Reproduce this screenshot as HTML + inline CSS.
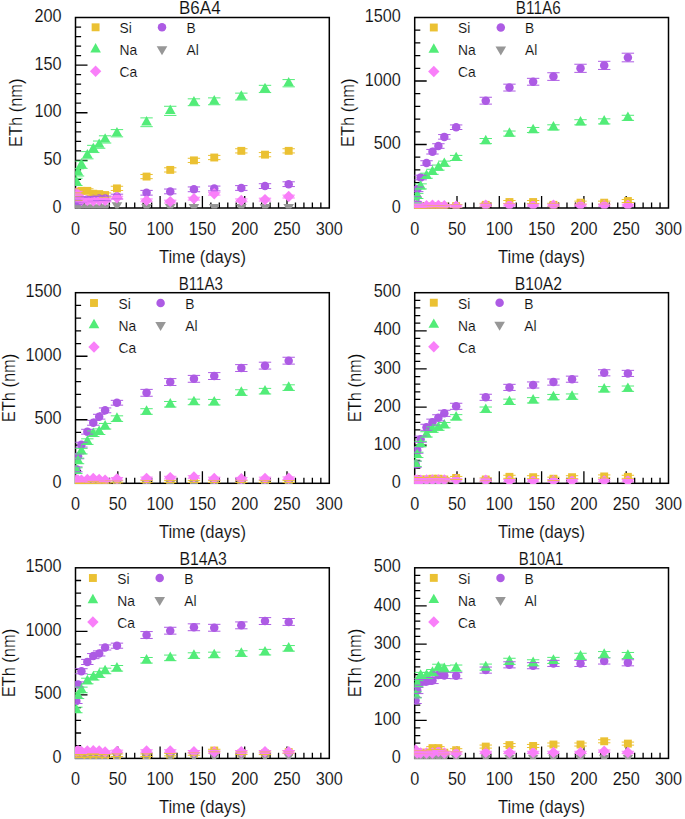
<!DOCTYPE html>
<html><head><meta charset="utf-8"><style>
html,body{margin:0;padding:0;background:#fff;width:685px;height:819px;overflow:hidden}
svg{display:block}
.t{font-family:"Liberation Sans", sans-serif;font-size:17.5px;fill:#0d0d0d;stroke:#fff;stroke-width:0.12px}
.l{font-family:"Liberation Sans", sans-serif;font-size:13.8px;fill:#0d0d0d;stroke:#fff;stroke-width:0.12px}
</style></head><body>
<svg width="685" height="819" viewBox="0 0 685 819">
<defs>
<clipPath id="c0"><rect x="75.1" y="17.5" width="254.20000000000002" height="191.1"/></clipPath>
<clipPath id="c1"><rect x="414.3" y="17.5" width="254.20000000000002" height="191.1"/></clipPath>
<clipPath id="c2"><rect x="75.1" y="292.7" width="254.20000000000002" height="191.20000000000002"/></clipPath>
<clipPath id="c3"><rect x="414.3" y="292.7" width="254.20000000000002" height="191.20000000000002"/></clipPath>
<clipPath id="c4"><rect x="75.1" y="567.8" width="254.20000000000002" height="191.20000000000002"/></clipPath>
<clipPath id="c5"><rect x="414.3" y="567.8" width="254.20000000000002" height="191.20000000000002"/></clipPath>
</defs>
<rect x="75.5" y="17.5" width="253.8" height="190.5" fill="none" stroke="#000" stroke-width="1.5"/>
<path d="M75.5 198.47h5.6M75.5 188.95h5.6M75.5 179.43h5.6M75.5 169.9h5.6M75.5 160.38h12M75.5 150.85h5.6M75.5 141.32h5.6M75.5 131.8h5.6M75.5 122.28h5.6M75.5 112.75h12M75.5 103.22h5.6M75.5 93.7h5.6M75.5 84.17h5.6M75.5 74.65h5.6M75.5 65.12h12M75.5 55.6h5.6M75.5 46.07h5.6M75.5 36.55h5.6M75.5 27.03h5.6M83.96 208v-5.6M92.42 208v-5.6M100.88 208v-5.6M109.34 208v-5.6M117.8 208v-12M126.26 208v-5.6M134.72 208v-5.6M143.18 208v-5.6M151.64 208v-5.6M160.1 208v-12M168.56 208v-5.6M177.02 208v-5.6M185.48 208v-5.6M193.94 208v-5.6M202.4 208v-12M210.86 208v-5.6M219.32 208v-5.6M227.78 208v-5.6M236.24 208v-5.6M244.7 208v-12M253.16 208v-5.6M261.62 208v-5.6M270.08 208v-5.6M278.54 208v-5.6M287 208v-12M295.46 208v-5.6M303.92 208v-5.6M312.38 208v-5.6M320.84 208v-5.6" stroke="#000" stroke-width="1.3" fill="none"/>
<g clip-path="url(#c0)">
<rect x="72.4" y="194.53" width="7.9" height="7.9" fill="#EBC133"/>
<rect x="74.09" y="192.62" width="7.9" height="7.9" fill="#EBC133"/>
<rect x="77.47" y="186.91" width="7.9" height="7.9" fill="#EBC133"/>
<rect x="83.39" y="186.91" width="7.9" height="7.9" fill="#EBC133"/>
<rect x="89.32" y="189.76" width="7.9" height="7.9" fill="#EBC133"/>
<rect x="95.24" y="190.14" width="7.9" height="7.9" fill="#EBC133"/>
<rect x="101.16" y="191.1" width="7.9" height="7.9" fill="#EBC133"/>
<rect x="113" y="184.43" width="7.9" height="7.9" fill="#EBC133"/>
<rect x="142.61" y="172.62" width="7.9" height="7.9" fill="#EBC133"/>
<rect x="166.3" y="165.95" width="7.9" height="7.9" fill="#EBC133"/>
<rect x="189.99" y="156.43" width="7.9" height="7.9" fill="#EBC133"/>
<rect x="210.29" y="153.57" width="7.9" height="7.9" fill="#EBC133"/>
<rect x="237.37" y="146.9" width="7.9" height="7.9" fill="#EBC133"/>
<rect x="261.05" y="150.71" width="7.9" height="7.9" fill="#EBC133"/>
<rect x="284.74" y="146.9" width="7.9" height="7.9" fill="#EBC133"/>
<circle cx="76.35" cy="202.28" r="4.25" fill="#AD5BE4"/>
<circle cx="78.04" cy="200.38" r="4.25" fill="#AD5BE4"/>
<circle cx="81.42" cy="199.43" r="4.25" fill="#AD5BE4"/>
<circle cx="87.34" cy="199.43" r="4.25" fill="#AD5BE4"/>
<circle cx="93.27" cy="198.95" r="4.25" fill="#AD5BE4"/>
<circle cx="99.19" cy="198.47" r="4.25" fill="#AD5BE4"/>
<circle cx="105.11" cy="198.47" r="4.25" fill="#AD5BE4"/>
<circle cx="116.95" cy="196.57" r="4.25" fill="#AD5BE4"/>
<circle cx="146.56" cy="192.76" r="4.25" fill="#AD5BE4"/>
<circle cx="170.25" cy="191.43" r="4.25" fill="#AD5BE4"/>
<circle cx="193.94" cy="189.33" r="4.25" fill="#AD5BE4"/>
<circle cx="214.24" cy="188.47" r="4.25" fill="#AD5BE4"/>
<circle cx="241.32" cy="188" r="4.25" fill="#AD5BE4"/>
<circle cx="265" cy="186.09" r="4.25" fill="#AD5BE4"/>
<circle cx="288.69" cy="184.19" r="4.25" fill="#AD5BE4"/>
<path d="M76.35 175.63L81.65 185.03L71.05 185.03Z" fill="#52EC78"/>
<path d="M78.04 166.11L83.34 175.51L72.74 175.51Z" fill="#52EC78"/>
<path d="M81.42 158.49L86.72 167.89L76.12 167.89Z" fill="#52EC78"/>
<path d="M87.34 148.96L92.64 158.36L82.04 158.36Z" fill="#52EC78"/>
<path d="M93.27 142.68L98.57 152.08L87.97 152.08Z" fill="#52EC78"/>
<path d="M99.19 138.39L104.49 147.79L93.89 147.79Z" fill="#52EC78"/>
<path d="M105.11 133.15L110.41 142.55L99.81 142.55Z" fill="#52EC78"/>
<path d="M116.95 126.96L122.25 136.36L111.65 136.36Z" fill="#52EC78"/>
<path d="M146.56 116.01L151.86 125.41L141.26 125.41Z" fill="#52EC78"/>
<path d="M170.25 104.58L175.55 113.98L164.95 113.98Z" fill="#52EC78"/>
<path d="M193.94 96.01L199.24 105.41L188.64 105.41Z" fill="#52EC78"/>
<path d="M214.24 95.05L219.54 104.45L208.94 104.45Z" fill="#52EC78"/>
<path d="M241.32 90.29L246.62 99.69L236.02 99.69Z" fill="#52EC78"/>
<path d="M265 82.67L270.3 92.07L259.7 92.07Z" fill="#52EC78"/>
<path d="M288.69 76.96L293.99 86.36L283.39 86.36Z" fill="#52EC78"/>
<path d="M76.35 213.52L81.65 204.52L71.05 204.52Z" fill="#979797"/>
<path d="M78.04 213.52L83.34 204.52L72.74 204.52Z" fill="#979797"/>
<path d="M81.42 213.52L86.72 204.52L76.12 204.52Z" fill="#979797"/>
<path d="M87.34 213.52L92.64 204.52L82.04 204.52Z" fill="#979797"/>
<path d="M93.27 213.52L98.57 204.52L87.97 204.52Z" fill="#979797"/>
<path d="M99.19 213.52L104.49 204.52L93.89 204.52Z" fill="#979797"/>
<path d="M105.11 213.52L110.41 204.52L99.81 204.52Z" fill="#979797"/>
<path d="M116.95 211.14L122.25 202.14L111.65 202.14Z" fill="#979797"/>
<path d="M146.56 213.05L151.86 204.05L141.26 204.05Z" fill="#979797"/>
<path d="M170.25 213.05L175.55 204.05L164.95 204.05Z" fill="#979797"/>
<path d="M193.94 213.05L199.24 204.05L188.64 204.05Z" fill="#979797"/>
<path d="M214.24 213.05L219.54 204.05L208.94 204.05Z" fill="#979797"/>
<path d="M241.32 213.05L246.62 204.05L236.02 204.05Z" fill="#979797"/>
<path d="M265 213.05L270.3 204.05L259.7 204.05Z" fill="#979797"/>
<path d="M288.69 213.05L293.99 204.05L283.39 204.05Z" fill="#979797"/>
<path d="M76.35 187.06L82.05 192.76L76.35 198.46L70.65 192.76Z" fill="#F97FF9"/>
<path d="M78.04 190.87L83.74 196.57L78.04 202.27L72.34 196.57Z" fill="#F97FF9"/>
<path d="M81.42 194.68L87.12 200.38L81.42 206.08L75.72 200.38Z" fill="#F97FF9"/>
<path d="M87.34 194.68L93.04 200.38L87.34 206.08L81.64 200.38Z" fill="#F97FF9"/>
<path d="M93.27 195.16L98.97 200.86L93.27 206.56L87.57 200.86Z" fill="#F97FF9"/>
<path d="M99.19 194.68L104.89 200.38L99.19 206.08L93.49 200.38Z" fill="#F97FF9"/>
<path d="M105.11 194.68L110.81 200.38L105.11 206.08L99.41 200.38Z" fill="#F97FF9"/>
<path d="M116.95 192.01L122.65 197.71L116.95 203.41L111.25 197.71Z" fill="#F97FF9"/>
<path d="M146.56 194.68L152.26 200.38L146.56 206.08L140.86 200.38Z" fill="#F97FF9"/>
<path d="M170.25 195.92L175.95 201.62L170.25 207.32L164.55 201.62Z" fill="#F97FF9"/>
<path d="M193.94 192.97L199.64 198.67L193.94 204.37L188.24 198.67Z" fill="#F97FF9"/>
<path d="M214.24 188.01L219.94 193.71L214.24 199.41L208.54 193.71Z" fill="#F97FF9"/>
<path d="M241.32 194.68L247.02 200.38L241.32 206.08L235.62 200.38Z" fill="#F97FF9"/>
<path d="M265 193.92L270.7 199.62L265 205.32L259.3 199.62Z" fill="#F97FF9"/>
<path d="M288.69 190.87L294.39 196.57L288.69 202.27L282.99 196.57Z" fill="#F97FF9"/>
<path d="M70.15 196.38H82.55M70.15 200.57H82.55" stroke="#EBC133" stroke-width="1" fill="none"/>
<path d="M71.84 194.47H84.24M71.84 198.67H84.24" stroke="#EBC133" stroke-width="1" fill="none"/>
<path d="M75.22 188.76H87.62M75.22 192.95H87.62" stroke="#EBC133" stroke-width="1" fill="none"/>
<path d="M81.14 188.76H93.54M81.14 192.95H93.54" stroke="#EBC133" stroke-width="1" fill="none"/>
<path d="M87.07 191.62H99.47M87.07 195.81H99.47" stroke="#EBC133" stroke-width="1" fill="none"/>
<path d="M92.99 192H105.39M92.99 196.19H105.39" stroke="#EBC133" stroke-width="1" fill="none"/>
<path d="M98.91 192.95H111.31M98.91 197.14H111.31" stroke="#EBC133" stroke-width="1" fill="none"/>
<path d="M110.75 186.28H123.15M110.75 190.47H123.15" stroke="#EBC133" stroke-width="1" fill="none"/>
<path d="M140.36 174.47H152.76M140.36 178.66H152.76" stroke="#EBC133" stroke-width="1" fill="none"/>
<path d="M164.05 167.8H176.45M164.05 172H176.45" stroke="#EBC133" stroke-width="1" fill="none"/>
<path d="M187.74 158.28H200.14M187.74 162.47H200.14" stroke="#EBC133" stroke-width="1" fill="none"/>
<path d="M208.04 155.42H220.44M208.04 159.61H220.44" stroke="#EBC133" stroke-width="1" fill="none"/>
<path d="M235.12 148.75H247.52M235.12 152.95H247.52" stroke="#EBC133" stroke-width="1" fill="none"/>
<path d="M258.8 152.56H271.2M258.8 156.76H271.2" stroke="#EBC133" stroke-width="1" fill="none"/>
<path d="M282.49 148.75H294.89M282.49 152.95H294.89" stroke="#EBC133" stroke-width="1" fill="none"/>
<path d="M70.15 199.9H82.55M70.15 204.67H82.55" stroke="#AD5BE4" stroke-width="1" fill="none"/>
<path d="M71.84 198H84.24M71.84 202.76H84.24" stroke="#AD5BE4" stroke-width="1" fill="none"/>
<path d="M75.22 197.05H87.62M75.22 201.81H87.62" stroke="#AD5BE4" stroke-width="1" fill="none"/>
<path d="M81.14 197.05H93.54M81.14 201.81H93.54" stroke="#AD5BE4" stroke-width="1" fill="none"/>
<path d="M87.07 196.57H99.47M87.07 201.33H99.47" stroke="#AD5BE4" stroke-width="1" fill="none"/>
<path d="M92.99 196.09H105.39M92.99 200.86H105.39" stroke="#AD5BE4" stroke-width="1" fill="none"/>
<path d="M98.91 196.09H111.31M98.91 200.86H111.31" stroke="#AD5BE4" stroke-width="1" fill="none"/>
<path d="M110.75 194.19H123.15M110.75 198.95H123.15" stroke="#AD5BE4" stroke-width="1" fill="none"/>
<path d="M140.36 190.38H152.76M140.36 195.14H152.76" stroke="#AD5BE4" stroke-width="1" fill="none"/>
<path d="M164.05 189.05H176.45M164.05 193.81H176.45" stroke="#AD5BE4" stroke-width="1" fill="none"/>
<path d="M187.74 186.95H200.14M187.74 191.71H200.14" stroke="#AD5BE4" stroke-width="1" fill="none"/>
<path d="M208.04 186.09H220.44M208.04 190.85H220.44" stroke="#AD5BE4" stroke-width="1" fill="none"/>
<path d="M235.12 185.62H247.52M235.12 190.38H247.52" stroke="#AD5BE4" stroke-width="1" fill="none"/>
<path d="M258.8 183.71H271.2M258.8 188.47H271.2" stroke="#AD5BE4" stroke-width="1" fill="none"/>
<path d="M282.49 181.81H294.89M282.49 186.57H294.89" stroke="#AD5BE4" stroke-width="1" fill="none"/>
<path d="M70.15 178.28H82.55M70.15 185.52H82.55" stroke="#52EC78" stroke-width="1" fill="none"/>
<path d="M71.84 168.76H84.24M71.84 176H84.24" stroke="#52EC78" stroke-width="1" fill="none"/>
<path d="M75.22 161.14H87.62M75.22 168.38H87.62" stroke="#52EC78" stroke-width="1" fill="none"/>
<path d="M81.14 151.61H93.54M81.14 158.85H93.54" stroke="#52EC78" stroke-width="1" fill="none"/>
<path d="M87.07 145.33H99.47M87.07 152.56H99.47" stroke="#52EC78" stroke-width="1" fill="none"/>
<path d="M92.99 141.04H105.39M92.99 148.28H105.39" stroke="#52EC78" stroke-width="1" fill="none"/>
<path d="M98.91 135.8H111.31M98.91 143.04H111.31" stroke="#52EC78" stroke-width="1" fill="none"/>
<path d="M110.75 129.61H123.15M110.75 136.85H123.15" stroke="#52EC78" stroke-width="1" fill="none"/>
<path d="M140.36 117.89H152.76M140.36 126.66H152.76" stroke="#52EC78" stroke-width="1" fill="none"/>
<path d="M164.05 106.27H176.45M164.05 115.42H176.45" stroke="#52EC78" stroke-width="1" fill="none"/>
<path d="M187.74 98.84H200.14M187.74 105.7H200.14" stroke="#52EC78" stroke-width="1" fill="none"/>
<path d="M208.04 97.89H220.44M208.04 104.75H220.44" stroke="#52EC78" stroke-width="1" fill="none"/>
<path d="M235.12 93.13H247.52M235.12 99.99H247.52" stroke="#52EC78" stroke-width="1" fill="none"/>
<path d="M258.8 85.32H271.2M258.8 92.56H271.2" stroke="#52EC78" stroke-width="1" fill="none"/>
<path d="M282.49 79.6H294.89M282.49 86.84H294.89" stroke="#52EC78" stroke-width="1" fill="none"/>
<path d="M70.15 191.33H82.55M70.15 194.19H82.55" stroke="#F97FF9" stroke-width="1" fill="none"/>
<path d="M71.84 195.14H84.24M71.84 198H84.24" stroke="#F97FF9" stroke-width="1" fill="none"/>
<path d="M75.22 198.95H87.62M75.22 201.81H87.62" stroke="#F97FF9" stroke-width="1" fill="none"/>
<path d="M81.14 198.95H93.54M81.14 201.81H93.54" stroke="#F97FF9" stroke-width="1" fill="none"/>
<path d="M87.07 199.43H99.47M87.07 202.28H99.47" stroke="#F97FF9" stroke-width="1" fill="none"/>
<path d="M92.99 198.95H105.39M92.99 201.81H105.39" stroke="#F97FF9" stroke-width="1" fill="none"/>
<path d="M98.91 198.95H111.31M98.91 201.81H111.31" stroke="#F97FF9" stroke-width="1" fill="none"/>
<path d="M110.75 196.28H123.15M110.75 199.14H123.15" stroke="#F97FF9" stroke-width="1" fill="none"/>
<path d="M140.36 198.95H152.76M140.36 201.81H152.76" stroke="#F97FF9" stroke-width="1" fill="none"/>
<path d="M164.05 200.19H176.45M164.05 203.05H176.45" stroke="#F97FF9" stroke-width="1" fill="none"/>
<path d="M187.74 197.24H200.14M187.74 200.09H200.14" stroke="#F97FF9" stroke-width="1" fill="none"/>
<path d="M208.04 192.28H220.44M208.04 195.14H220.44" stroke="#F97FF9" stroke-width="1" fill="none"/>
<path d="M235.12 198.95H247.52M235.12 201.81H247.52" stroke="#F97FF9" stroke-width="1" fill="none"/>
<path d="M258.8 198.19H271.2M258.8 201.05H271.2" stroke="#F97FF9" stroke-width="1" fill="none"/>
<path d="M282.49 195.14H294.89M282.49 198H294.89" stroke="#F97FF9" stroke-width="1" fill="none"/>
</g>
<text transform="translate(61.6 212.6) scale(0.93,1)" text-anchor="end" class="t">0</text>
<text transform="translate(61.6 164.97) scale(0.93,1)" text-anchor="end" class="t">50</text>
<text transform="translate(61.6 117.35) scale(0.93,1)" text-anchor="end" class="t">100</text>
<text transform="translate(61.6 69.72) scale(0.93,1)" text-anchor="end" class="t">150</text>
<text transform="translate(61.6 22.1) scale(0.93,1)" text-anchor="end" class="t">200</text>
<text transform="translate(75.5 234.5) scale(0.93,1)" text-anchor="middle" class="t">0</text>
<text transform="translate(117.8 234.5) scale(0.93,1)" text-anchor="middle" class="t">50</text>
<text transform="translate(160.1 234.5) scale(0.93,1)" text-anchor="middle" class="t">100</text>
<text transform="translate(202.4 234.5) scale(0.93,1)" text-anchor="middle" class="t">150</text>
<text transform="translate(244.7 234.5) scale(0.93,1)" text-anchor="middle" class="t">200</text>
<text transform="translate(287 234.5) scale(0.93,1)" text-anchor="middle" class="t">250</text>
<text transform="translate(329.3 234.5) scale(0.93,1)" text-anchor="middle" class="t">300</text>
<text transform="translate(179.04 14.4) scale(0.971,1)" class="t">B6A4</text>
<text transform="translate(202.4 262.5) scale(0.95,1)" text-anchor="middle" class="t">Time (days)</text>
<text transform="translate(21.7 112.75) rotate(-90) scale(0.94,1)" text-anchor="middle" class="t">ETh (nm)</text>
<rect x="91.65" y="23.35" width="7.9" height="7.9" fill="#EBC133"/>
<text x="119.5" y="33.1" class="l">Si</text>
<circle cx="162" cy="27.3" r="4.25" fill="#AD5BE4"/>
<text x="186.5" y="33.1" class="l">B</text>
<path d="M95.6 43.03L100.9 52.43L90.3 52.43Z" fill="#52EC78"/>
<text x="119.5" y="55.1" class="l">Na</text>
<path d="M162 55.3L167.3 46.3L156.7 46.3Z" fill="#979797"/>
<text x="186.5" y="55.1" class="l">Al</text>
<path d="M95.6 65.6L101.3 71.3L95.6 77L89.9 71.3Z" fill="#F97FF9"/>
<text x="119.5" y="77.1" class="l">Ca</text>
<rect x="414.7" y="17.5" width="253.8" height="190.5" fill="none" stroke="#000" stroke-width="1.5"/>
<path d="M414.7 195.3h5.6M414.7 182.6h5.6M414.7 169.9h5.6M414.7 157.2h5.6M414.7 144.5h12M414.7 131.8h5.6M414.7 119.1h5.6M414.7 106.4h5.6M414.7 93.7h5.6M414.7 81h12M414.7 68.3h5.6M414.7 55.6h5.6M414.7 42.9h5.6M414.7 30.2h5.6M423.16 208v-5.6M431.62 208v-5.6M440.08 208v-5.6M448.54 208v-5.6M457 208v-12M465.46 208v-5.6M473.92 208v-5.6M482.38 208v-5.6M490.84 208v-5.6M499.3 208v-12M507.76 208v-5.6M516.22 208v-5.6M524.68 208v-5.6M533.14 208v-5.6M541.6 208v-12M550.06 208v-5.6M558.52 208v-5.6M566.98 208v-5.6M575.44 208v-5.6M583.9 208v-12M592.36 208v-5.6M600.82 208v-5.6M609.28 208v-5.6M617.74 208v-5.6M626.2 208v-12M634.66 208v-5.6M643.12 208v-5.6M651.58 208v-5.6M660.04 208v-5.6" stroke="#000" stroke-width="1.3" fill="none"/>
<g clip-path="url(#c1)">
<rect x="411.6" y="202.78" width="7.9" height="7.9" fill="#EBC133"/>
<rect x="413.29" y="202.78" width="7.9" height="7.9" fill="#EBC133"/>
<rect x="416.67" y="202.78" width="7.9" height="7.9" fill="#EBC133"/>
<rect x="422.59" y="202.78" width="7.9" height="7.9" fill="#EBC133"/>
<rect x="428.52" y="202.53" width="7.9" height="7.9" fill="#EBC133"/>
<rect x="434.44" y="202.53" width="7.9" height="7.9" fill="#EBC133"/>
<rect x="440.36" y="202.53" width="7.9" height="7.9" fill="#EBC133"/>
<rect x="452.2" y="202.15" width="7.9" height="7.9" fill="#EBC133"/>
<rect x="481.81" y="200.88" width="7.9" height="7.9" fill="#EBC133"/>
<rect x="505.5" y="198.08" width="7.9" height="7.9" fill="#EBC133"/>
<rect x="529.19" y="198.08" width="7.9" height="7.9" fill="#EBC133"/>
<rect x="549.49" y="200.88" width="7.9" height="7.9" fill="#EBC133"/>
<rect x="576.57" y="198.72" width="7.9" height="7.9" fill="#EBC133"/>
<rect x="600.25" y="198.72" width="7.9" height="7.9" fill="#EBC133"/>
<rect x="623.94" y="197.06" width="7.9" height="7.9" fill="#EBC133"/>
<circle cx="415.55" cy="199.11" r="4.25" fill="#AD5BE4"/>
<circle cx="417.24" cy="189.33" r="4.25" fill="#AD5BE4"/>
<circle cx="420.62" cy="177.52" r="4.25" fill="#AD5BE4"/>
<circle cx="426.54" cy="163.04" r="4.25" fill="#AD5BE4"/>
<circle cx="432.47" cy="151.74" r="4.25" fill="#AD5BE4"/>
<circle cx="438.39" cy="146.02" r="4.25" fill="#AD5BE4"/>
<circle cx="444.31" cy="136.88" r="4.25" fill="#AD5BE4"/>
<circle cx="456.15" cy="127.23" r="4.25" fill="#AD5BE4"/>
<circle cx="485.76" cy="100.69" r="4.25" fill="#AD5BE4"/>
<circle cx="509.45" cy="87.6" r="4.25" fill="#AD5BE4"/>
<circle cx="533.14" cy="81.76" r="4.25" fill="#AD5BE4"/>
<circle cx="553.44" cy="76.56" r="4.25" fill="#AD5BE4"/>
<circle cx="580.52" cy="68.3" r="4.25" fill="#AD5BE4"/>
<circle cx="604.2" cy="65.38" r="4.25" fill="#AD5BE4"/>
<circle cx="627.89" cy="57.5" r="4.25" fill="#AD5BE4"/>
<path d="M415.55 194.11L420.85 203.51L410.25 203.51Z" fill="#52EC78"/>
<path d="M417.24 189.67L422.54 199.07L411.94 199.07Z" fill="#52EC78"/>
<path d="M420.62 180.14L425.92 189.54L415.32 189.54Z" fill="#52EC78"/>
<path d="M426.54 169.48L431.84 178.88L421.24 178.88Z" fill="#52EC78"/>
<path d="M432.47 165.54L437.77 174.94L427.17 174.94Z" fill="#52EC78"/>
<path d="M438.39 161.35L443.69 170.75L433.09 170.75Z" fill="#52EC78"/>
<path d="M444.31 157.41L449.61 166.81L439.01 166.81Z" fill="#52EC78"/>
<path d="M456.15 151.7L461.45 161.1L450.85 161.1Z" fill="#52EC78"/>
<path d="M485.76 134.8L491.06 144.2L480.46 144.2Z" fill="#52EC78"/>
<path d="M509.45 127.31L514.75 136.71L504.15 136.71Z" fill="#52EC78"/>
<path d="M533.14 123.76L538.44 133.16L527.84 133.16Z" fill="#52EC78"/>
<path d="M553.44 121.09L558.74 130.49L548.14 130.49Z" fill="#52EC78"/>
<path d="M580.52 116.01L585.82 125.41L575.22 125.41Z" fill="#52EC78"/>
<path d="M604.2 115.12L609.5 124.52L598.9 124.52Z" fill="#52EC78"/>
<path d="M627.89 111.56L633.19 120.96L622.59 120.96Z" fill="#52EC78"/>
<path d="M415.55 213.75L420.85 204.75L410.25 204.75Z" fill="#979797"/>
<path d="M417.24 213.75L422.54 204.75L411.94 204.75Z" fill="#979797"/>
<path d="M420.62 213.75L425.92 204.75L415.32 204.75Z" fill="#979797"/>
<path d="M426.54 213.75L431.84 204.75L421.24 204.75Z" fill="#979797"/>
<path d="M432.47 213.75L437.77 204.75L427.17 204.75Z" fill="#979797"/>
<path d="M438.39 213.75L443.69 204.75L433.09 204.75Z" fill="#979797"/>
<path d="M444.31 213.75L449.61 204.75L439.01 204.75Z" fill="#979797"/>
<path d="M456.15 213.75L461.45 204.75L450.85 204.75Z" fill="#979797"/>
<path d="M485.76 213.75L491.06 204.75L480.46 204.75Z" fill="#979797"/>
<path d="M509.45 213.75L514.75 204.75L504.15 204.75Z" fill="#979797"/>
<path d="M533.14 213.75L538.44 204.75L527.84 204.75Z" fill="#979797"/>
<path d="M553.44 213.75L558.74 204.75L548.14 204.75Z" fill="#979797"/>
<path d="M580.52 213.75L585.82 204.75L575.22 204.75Z" fill="#979797"/>
<path d="M604.2 213.75L609.5 204.75L598.9 204.75Z" fill="#979797"/>
<path d="M627.89 213.75L633.19 204.75L622.59 204.75Z" fill="#979797"/>
<path d="M415.55 199.76L421.25 205.46L415.55 211.16L409.85 205.46Z" fill="#F97FF9"/>
<path d="M417.24 200.4L422.94 206.09L417.24 211.79L411.54 206.09Z" fill="#F97FF9"/>
<path d="M420.62 200.4L426.32 206.09L420.62 211.79L414.92 206.09Z" fill="#F97FF9"/>
<path d="M426.54 200.01L432.24 205.71L426.54 211.41L420.84 205.71Z" fill="#F97FF9"/>
<path d="M432.47 199.51L438.17 205.21L432.47 210.91L426.77 205.21Z" fill="#F97FF9"/>
<path d="M438.39 199.76L444.09 205.46L438.39 211.16L432.69 205.46Z" fill="#F97FF9"/>
<path d="M444.31 200.01L450.01 205.71L444.31 211.41L438.61 205.71Z" fill="#F97FF9"/>
<path d="M456.15 200.4L461.85 206.09L456.15 211.79L450.45 206.09Z" fill="#F97FF9"/>
<path d="M485.76 199.51L491.46 205.21L485.76 210.91L480.06 205.21Z" fill="#F97FF9"/>
<path d="M509.45 199.25L515.15 204.95L509.45 210.65L503.75 204.95Z" fill="#F97FF9"/>
<path d="M533.14 199.51L538.84 205.21L533.14 210.91L527.44 205.21Z" fill="#F97FF9"/>
<path d="M553.44 199.51L559.14 205.21L553.44 210.91L547.74 205.21Z" fill="#F97FF9"/>
<path d="M580.52 199.51L586.22 205.21L580.52 210.91L574.82 205.21Z" fill="#F97FF9"/>
<path d="M604.2 199.51L609.9 205.21L604.2 210.91L598.5 205.21Z" fill="#F97FF9"/>
<path d="M627.89 199.51L633.59 205.21L627.89 210.91L622.19 205.21Z" fill="#F97FF9"/>
<path d="M409.35 205.21H421.75M409.35 208.25H421.75" stroke="#EBC133" stroke-width="1" fill="none"/>
<path d="M411.04 205.21H423.44M411.04 208.25H423.44" stroke="#EBC133" stroke-width="1" fill="none"/>
<path d="M414.42 205.21H426.82M414.42 208.25H426.82" stroke="#EBC133" stroke-width="1" fill="none"/>
<path d="M420.34 205.21H432.74M420.34 208.25H432.74" stroke="#EBC133" stroke-width="1" fill="none"/>
<path d="M426.27 204.95H438.67M426.27 208H438.67" stroke="#EBC133" stroke-width="1" fill="none"/>
<path d="M432.19 204.95H444.59M432.19 208H444.59" stroke="#EBC133" stroke-width="1" fill="none"/>
<path d="M438.11 204.95H450.51M438.11 208H450.51" stroke="#EBC133" stroke-width="1" fill="none"/>
<path d="M449.95 204.57H462.35M449.95 207.62H462.35" stroke="#EBC133" stroke-width="1" fill="none"/>
<path d="M479.56 203.3H491.96M479.56 206.35H491.96" stroke="#EBC133" stroke-width="1" fill="none"/>
<path d="M503.25 200.51H515.65M503.25 203.56H515.65" stroke="#EBC133" stroke-width="1" fill="none"/>
<path d="M526.94 200.51H539.34M526.94 203.56H539.34" stroke="#EBC133" stroke-width="1" fill="none"/>
<path d="M547.24 203.3H559.64M547.24 206.35H559.64" stroke="#EBC133" stroke-width="1" fill="none"/>
<path d="M574.32 201.14H586.72M574.32 204.19H586.72" stroke="#EBC133" stroke-width="1" fill="none"/>
<path d="M598 201.14H610.4M598 204.19H610.4" stroke="#EBC133" stroke-width="1" fill="none"/>
<path d="M621.69 199.49H634.09M621.69 202.54H634.09" stroke="#EBC133" stroke-width="1" fill="none"/>
<path d="M409.35 196.82H421.75M409.35 201.4H421.75" stroke="#AD5BE4" stroke-width="1" fill="none"/>
<path d="M411.04 187.04H423.44M411.04 191.62H423.44" stroke="#AD5BE4" stroke-width="1" fill="none"/>
<path d="M414.42 175.23H426.82M414.42 179.81H426.82" stroke="#AD5BE4" stroke-width="1" fill="none"/>
<path d="M420.34 160.76H432.74M420.34 165.33H432.74" stroke="#AD5BE4" stroke-width="1" fill="none"/>
<path d="M426.27 149.45H438.67M426.27 154.03H438.67" stroke="#AD5BE4" stroke-width="1" fill="none"/>
<path d="M432.19 143.74H444.59M432.19 148.31H444.59" stroke="#AD5BE4" stroke-width="1" fill="none"/>
<path d="M438.11 134.59H450.51M438.11 139.17H450.51" stroke="#AD5BE4" stroke-width="1" fill="none"/>
<path d="M449.95 124.94H462.35M449.95 129.51H462.35" stroke="#AD5BE4" stroke-width="1" fill="none"/>
<path d="M479.56 97.26H491.96M479.56 104.11H491.96" stroke="#AD5BE4" stroke-width="1" fill="none"/>
<path d="M503.25 84.17H515.65M503.25 91.03H515.65" stroke="#AD5BE4" stroke-width="1" fill="none"/>
<path d="M526.94 78.33H539.34M526.94 85.19H539.34" stroke="#AD5BE4" stroke-width="1" fill="none"/>
<path d="M547.24 72.75H559.64M547.24 80.37H559.64" stroke="#AD5BE4" stroke-width="1" fill="none"/>
<path d="M574.32 64.24H586.72M574.32 72.36H586.72" stroke="#AD5BE4" stroke-width="1" fill="none"/>
<path d="M598 61.31H610.4M598 69.44H610.4" stroke="#AD5BE4" stroke-width="1" fill="none"/>
<path d="M621.69 53.19H634.09M621.69 61.82H634.09" stroke="#AD5BE4" stroke-width="1" fill="none"/>
<path d="M409.35 197.84H421.75M409.35 202.92H421.75" stroke="#52EC78" stroke-width="1" fill="none"/>
<path d="M411.04 193.4H423.44M411.04 198.47H423.44" stroke="#52EC78" stroke-width="1" fill="none"/>
<path d="M414.42 183.87H426.82M414.42 188.95H426.82" stroke="#52EC78" stroke-width="1" fill="none"/>
<path d="M420.34 173.2H432.74M420.34 178.28H432.74" stroke="#52EC78" stroke-width="1" fill="none"/>
<path d="M426.27 169.27H438.67M426.27 174.34H438.67" stroke="#52EC78" stroke-width="1" fill="none"/>
<path d="M432.19 165.07H444.59M432.19 170.15H444.59" stroke="#52EC78" stroke-width="1" fill="none"/>
<path d="M438.11 161.14H450.51M438.11 166.22H450.51" stroke="#52EC78" stroke-width="1" fill="none"/>
<path d="M449.95 155.42H462.35M449.95 160.5H462.35" stroke="#52EC78" stroke-width="1" fill="none"/>
<path d="M479.56 138.53H491.96M479.56 143.61H491.96" stroke="#52EC78" stroke-width="1" fill="none"/>
<path d="M503.25 131.04H515.65M503.25 136.12H515.65" stroke="#52EC78" stroke-width="1" fill="none"/>
<path d="M526.94 127.48H539.34M526.94 132.56H539.34" stroke="#52EC78" stroke-width="1" fill="none"/>
<path d="M547.24 124.81H559.64M547.24 129.9H559.64" stroke="#52EC78" stroke-width="1" fill="none"/>
<path d="M574.32 119.73H586.72M574.32 124.82H586.72" stroke="#52EC78" stroke-width="1" fill="none"/>
<path d="M598 118.85H610.4M598 123.93H610.4" stroke="#52EC78" stroke-width="1" fill="none"/>
<path d="M621.69 115.29H634.09M621.69 120.37H634.09" stroke="#52EC78" stroke-width="1" fill="none"/>
<path d="M409.35 204.44H421.75M409.35 206.48H421.75" stroke="#F97FF9" stroke-width="1" fill="none"/>
<path d="M411.04 205.08H423.44M411.04 207.11H423.44" stroke="#F97FF9" stroke-width="1" fill="none"/>
<path d="M414.42 205.08H426.82M414.42 207.11H426.82" stroke="#F97FF9" stroke-width="1" fill="none"/>
<path d="M420.34 204.7H432.74M420.34 206.73H432.74" stroke="#F97FF9" stroke-width="1" fill="none"/>
<path d="M426.27 204.19H438.67M426.27 206.22H438.67" stroke="#F97FF9" stroke-width="1" fill="none"/>
<path d="M432.19 204.44H444.59M432.19 206.48H444.59" stroke="#F97FF9" stroke-width="1" fill="none"/>
<path d="M438.11 204.7H450.51M438.11 206.73H450.51" stroke="#F97FF9" stroke-width="1" fill="none"/>
<path d="M449.95 205.08H462.35M449.95 207.11H462.35" stroke="#F97FF9" stroke-width="1" fill="none"/>
<path d="M479.56 204.19H491.96M479.56 206.22H491.96" stroke="#F97FF9" stroke-width="1" fill="none"/>
<path d="M503.25 203.94H515.65M503.25 205.97H515.65" stroke="#F97FF9" stroke-width="1" fill="none"/>
<path d="M526.94 204.19H539.34M526.94 206.22H539.34" stroke="#F97FF9" stroke-width="1" fill="none"/>
<path d="M547.24 204.19H559.64M547.24 206.22H559.64" stroke="#F97FF9" stroke-width="1" fill="none"/>
<path d="M574.32 204.19H586.72M574.32 206.22H586.72" stroke="#F97FF9" stroke-width="1" fill="none"/>
<path d="M598 204.19H610.4M598 206.22H610.4" stroke="#F97FF9" stroke-width="1" fill="none"/>
<path d="M621.69 204.19H634.09M621.69 206.22H634.09" stroke="#F97FF9" stroke-width="1" fill="none"/>
</g>
<text transform="translate(400.8 212.6) scale(0.93,1)" text-anchor="end" class="t">0</text>
<text transform="translate(400.8 149.1) scale(0.93,1)" text-anchor="end" class="t">500</text>
<text transform="translate(400.8 85.6) scale(0.93,1)" text-anchor="end" class="t">1000</text>
<text transform="translate(400.8 22.1) scale(0.93,1)" text-anchor="end" class="t">1500</text>
<text transform="translate(414.7 234.5) scale(0.93,1)" text-anchor="middle" class="t">0</text>
<text transform="translate(457 234.5) scale(0.93,1)" text-anchor="middle" class="t">50</text>
<text transform="translate(499.3 234.5) scale(0.93,1)" text-anchor="middle" class="t">100</text>
<text transform="translate(541.6 234.5) scale(0.93,1)" text-anchor="middle" class="t">150</text>
<text transform="translate(583.9 234.5) scale(0.93,1)" text-anchor="middle" class="t">200</text>
<text transform="translate(626.2 234.5) scale(0.93,1)" text-anchor="middle" class="t">250</text>
<text transform="translate(668.5 234.5) scale(0.93,1)" text-anchor="middle" class="t">300</text>
<text transform="translate(515.77 14.4) scale(0.878,1)" class="t">B11A6</text>
<text transform="translate(541.6 262.5) scale(0.95,1)" text-anchor="middle" class="t">Time (days)</text>
<text transform="translate(353.9 112.75) rotate(-90) scale(0.94,1)" text-anchor="middle" class="t">ETh (nm)</text>
<rect x="429.85" y="23.55" width="7.9" height="7.9" fill="#EBC133"/>
<text x="458" y="33.3" class="l">Si</text>
<circle cx="500.8" cy="27.5" r="4.25" fill="#AD5BE4"/>
<text x="525.1" y="33.3" class="l">B</text>
<path d="M433.8 43.23L439.1 52.63L428.5 52.63Z" fill="#52EC78"/>
<text x="458" y="55.3" class="l">Na</text>
<path d="M500.8 55.5L506.1 46.5L495.5 46.5Z" fill="#979797"/>
<text x="525.1" y="55.3" class="l">Al</text>
<path d="M433.8 65.8L439.5 71.5L433.8 77.2L428.1 71.5Z" fill="#F97FF9"/>
<text x="458" y="77.3" class="l">Ca</text>
<rect x="75.5" y="292.7" width="253.8" height="190.6" fill="none" stroke="#000" stroke-width="1.5"/>
<path d="M75.5 470.59h5.6M75.5 457.89h5.6M75.5 445.18h5.6M75.5 432.47h5.6M75.5 419.77h12M75.5 407.06h5.6M75.5 394.35h5.6M75.5 381.65h5.6M75.5 368.94h5.6M75.5 356.23h12M75.5 343.53h5.6M75.5 330.82h5.6M75.5 318.11h5.6M75.5 305.41h5.6M83.96 483.3v-5.6M92.42 483.3v-5.6M100.88 483.3v-5.6M109.34 483.3v-5.6M117.8 483.3v-12M126.26 483.3v-5.6M134.72 483.3v-5.6M143.18 483.3v-5.6M151.64 483.3v-5.6M160.1 483.3v-12M168.56 483.3v-5.6M177.02 483.3v-5.6M185.48 483.3v-5.6M193.94 483.3v-5.6M202.4 483.3v-12M210.86 483.3v-5.6M219.32 483.3v-5.6M227.78 483.3v-5.6M236.24 483.3v-5.6M244.7 483.3v-12M253.16 483.3v-5.6M261.62 483.3v-5.6M270.08 483.3v-5.6M278.54 483.3v-5.6M287 483.3v-12M295.46 483.3v-5.6M303.92 483.3v-5.6M312.38 483.3v-5.6M320.84 483.3v-5.6" stroke="#000" stroke-width="1.3" fill="none"/>
<g clip-path="url(#c2)">
<rect x="72.4" y="478.33" width="7.9" height="7.9" fill="#EBC133"/>
<rect x="74.09" y="478.33" width="7.9" height="7.9" fill="#EBC133"/>
<rect x="77.47" y="478.33" width="7.9" height="7.9" fill="#EBC133"/>
<rect x="83.39" y="478.33" width="7.9" height="7.9" fill="#EBC133"/>
<rect x="89.32" y="478.33" width="7.9" height="7.9" fill="#EBC133"/>
<rect x="95.24" y="478.08" width="7.9" height="7.9" fill="#EBC133"/>
<rect x="101.16" y="478.08" width="7.9" height="7.9" fill="#EBC133"/>
<rect x="113" y="477.83" width="7.9" height="7.9" fill="#EBC133"/>
<rect x="142.61" y="477.44" width="7.9" height="7.9" fill="#EBC133"/>
<rect x="166.3" y="477.44" width="7.9" height="7.9" fill="#EBC133"/>
<rect x="189.99" y="477.44" width="7.9" height="7.9" fill="#EBC133"/>
<rect x="210.29" y="477.44" width="7.9" height="7.9" fill="#EBC133"/>
<rect x="237.37" y="477.44" width="7.9" height="7.9" fill="#EBC133"/>
<rect x="261.05" y="477.44" width="7.9" height="7.9" fill="#EBC133"/>
<rect x="284.74" y="477.44" width="7.9" height="7.9" fill="#EBC133"/>
<circle cx="76.35" cy="469.32" r="4.25" fill="#AD5BE4"/>
<circle cx="78.04" cy="456.36" r="4.25" fill="#AD5BE4"/>
<circle cx="81.42" cy="444.67" r="4.25" fill="#AD5BE4"/>
<circle cx="87.34" cy="431.71" r="4.25" fill="#AD5BE4"/>
<circle cx="93.27" cy="422.82" r="4.25" fill="#AD5BE4"/>
<circle cx="99.19" cy="416.72" r="4.25" fill="#AD5BE4"/>
<circle cx="105.11" cy="410.36" r="4.25" fill="#AD5BE4"/>
<circle cx="116.95" cy="402.74" r="4.25" fill="#AD5BE4"/>
<circle cx="146.56" cy="392.83" r="4.25" fill="#AD5BE4"/>
<circle cx="170.25" cy="382.03" r="4.25" fill="#AD5BE4"/>
<circle cx="193.94" cy="378.85" r="4.25" fill="#AD5BE4"/>
<circle cx="214.24" cy="376.06" r="4.25" fill="#AD5BE4"/>
<circle cx="241.32" cy="368.05" r="4.25" fill="#AD5BE4"/>
<circle cx="265" cy="365.64" r="4.25" fill="#AD5BE4"/>
<circle cx="288.69" cy="360.68" r="4.25" fill="#AD5BE4"/>
<path d="M76.35 464.33L81.65 473.73L71.05 473.73Z" fill="#52EC78"/>
<path d="M78.04 454.67L83.34 464.07L72.74 464.07Z" fill="#52EC78"/>
<path d="M81.42 444.89L86.72 454.29L76.12 454.29Z" fill="#52EC78"/>
<path d="M87.34 435.36L92.64 444.76L82.04 444.76Z" fill="#52EC78"/>
<path d="M93.27 427.48L98.57 436.88L87.97 436.88Z" fill="#52EC78"/>
<path d="M99.19 425.44L104.49 434.84L93.89 434.84Z" fill="#52EC78"/>
<path d="M105.11 419.98L110.41 429.38L99.81 429.38Z" fill="#52EC78"/>
<path d="M116.95 412.36L122.25 421.76L111.65 421.76Z" fill="#52EC78"/>
<path d="M146.56 405.24L151.86 414.64L141.26 414.64Z" fill="#52EC78"/>
<path d="M170.25 398L175.55 407.4L164.95 407.4Z" fill="#52EC78"/>
<path d="M193.94 395.71L199.24 405.11L188.64 405.11Z" fill="#52EC78"/>
<path d="M214.24 395.96L219.54 405.36L208.94 405.36Z" fill="#52EC78"/>
<path d="M241.32 386.31L246.62 395.71L236.02 395.71Z" fill="#52EC78"/>
<path d="M265 384.91L270.3 394.31L259.7 394.31Z" fill="#52EC78"/>
<path d="M288.69 381.35L293.99 390.75L283.39 390.75Z" fill="#52EC78"/>
<path d="M76.35 489.05L81.65 480.05L71.05 480.05Z" fill="#979797"/>
<path d="M78.04 489.05L83.34 480.05L72.74 480.05Z" fill="#979797"/>
<path d="M81.42 489.05L86.72 480.05L76.12 480.05Z" fill="#979797"/>
<path d="M87.34 489.05L92.64 480.05L82.04 480.05Z" fill="#979797"/>
<path d="M93.27 489.05L98.57 480.05L87.97 480.05Z" fill="#979797"/>
<path d="M99.19 489.05L104.49 480.05L93.89 480.05Z" fill="#979797"/>
<path d="M105.11 489.05L110.41 480.05L99.81 480.05Z" fill="#979797"/>
<path d="M116.95 489.05L122.25 480.05L111.65 480.05Z" fill="#979797"/>
<path d="M146.56 489.05L151.86 480.05L141.26 480.05Z" fill="#979797"/>
<path d="M170.25 489.05L175.55 480.05L164.95 480.05Z" fill="#979797"/>
<path d="M193.94 489.05L199.24 480.05L188.64 480.05Z" fill="#979797"/>
<path d="M214.24 489.05L219.54 480.05L208.94 480.05Z" fill="#979797"/>
<path d="M241.32 489.05L246.62 480.05L236.02 480.05Z" fill="#979797"/>
<path d="M265 489.05L270.3 480.05L259.7 480.05Z" fill="#979797"/>
<path d="M288.69 489.05L293.99 480.05L283.39 480.05Z" fill="#979797"/>
<path d="M76.35 473.79L82.05 479.49L76.35 485.19L70.65 479.49Z" fill="#F97FF9"/>
<path d="M78.04 474.42L83.74 480.12L78.04 485.82L72.34 480.12Z" fill="#F97FF9"/>
<path d="M81.42 474.42L87.12 480.12L81.42 485.82L75.72 480.12Z" fill="#F97FF9"/>
<path d="M87.34 473.79L93.04 479.49L87.34 485.19L81.64 479.49Z" fill="#F97FF9"/>
<path d="M93.27 472.77L98.97 478.47L93.27 484.17L87.57 478.47Z" fill="#F97FF9"/>
<path d="M99.19 473.79L104.89 479.49L99.19 485.19L93.49 479.49Z" fill="#F97FF9"/>
<path d="M105.11 474.42L110.81 480.12L105.11 485.82L99.41 480.12Z" fill="#F97FF9"/>
<path d="M116.95 473.15L122.65 478.85L116.95 484.55L111.25 478.85Z" fill="#F97FF9"/>
<path d="M146.56 472.64L152.26 478.34L146.56 484.04L140.86 478.34Z" fill="#F97FF9"/>
<path d="M170.25 471.88L175.95 477.58L170.25 483.28L164.55 477.58Z" fill="#F97FF9"/>
<path d="M193.94 471.25L199.64 476.95L193.94 482.65L188.24 476.95Z" fill="#F97FF9"/>
<path d="M214.24 472.77L219.94 478.47L214.24 484.17L208.54 478.47Z" fill="#F97FF9"/>
<path d="M241.32 473.03L247.02 478.73L241.32 484.43L235.62 478.73Z" fill="#F97FF9"/>
<path d="M265 472.77L270.7 478.47L265 484.17L259.3 478.47Z" fill="#F97FF9"/>
<path d="M288.69 472.52L294.39 478.22L288.69 483.92L282.99 478.22Z" fill="#F97FF9"/>
<path d="M70.15 481.27H82.55M70.15 483.3H82.55" stroke="#EBC133" stroke-width="1" fill="none"/>
<path d="M71.84 481.27H84.24M71.84 483.3H84.24" stroke="#EBC133" stroke-width="1" fill="none"/>
<path d="M75.22 481.27H87.62M75.22 483.3H87.62" stroke="#EBC133" stroke-width="1" fill="none"/>
<path d="M81.14 481.27H93.54M81.14 483.3H93.54" stroke="#EBC133" stroke-width="1" fill="none"/>
<path d="M87.07 481.27H99.47M87.07 483.3H99.47" stroke="#EBC133" stroke-width="1" fill="none"/>
<path d="M92.99 481.01H105.39M92.99 483.05H105.39" stroke="#EBC133" stroke-width="1" fill="none"/>
<path d="M98.91 481.01H111.31M98.91 483.05H111.31" stroke="#EBC133" stroke-width="1" fill="none"/>
<path d="M110.75 480.76H123.15M110.75 482.79H123.15" stroke="#EBC133" stroke-width="1" fill="none"/>
<path d="M140.36 480.38H152.76M140.36 482.41H152.76" stroke="#EBC133" stroke-width="1" fill="none"/>
<path d="M164.05 480.38H176.45M164.05 482.41H176.45" stroke="#EBC133" stroke-width="1" fill="none"/>
<path d="M187.74 480.38H200.14M187.74 482.41H200.14" stroke="#EBC133" stroke-width="1" fill="none"/>
<path d="M208.04 480.38H220.44M208.04 482.41H220.44" stroke="#EBC133" stroke-width="1" fill="none"/>
<path d="M235.12 480.38H247.52M235.12 482.41H247.52" stroke="#EBC133" stroke-width="1" fill="none"/>
<path d="M258.8 480.38H271.2M258.8 482.41H271.2" stroke="#EBC133" stroke-width="1" fill="none"/>
<path d="M282.49 480.38H294.89M282.49 482.41H294.89" stroke="#EBC133" stroke-width="1" fill="none"/>
<path d="M70.15 466.91H82.55M70.15 471.74H82.55" stroke="#AD5BE4" stroke-width="1" fill="none"/>
<path d="M71.84 453.95H84.24M71.84 458.78H84.24" stroke="#AD5BE4" stroke-width="1" fill="none"/>
<path d="M75.22 442.26H87.62M75.22 447.09H87.62" stroke="#AD5BE4" stroke-width="1" fill="none"/>
<path d="M81.14 429.3H93.54M81.14 434.13H93.54" stroke="#AD5BE4" stroke-width="1" fill="none"/>
<path d="M87.07 420.4H99.47M87.07 425.23H99.47" stroke="#AD5BE4" stroke-width="1" fill="none"/>
<path d="M92.99 414.3H105.39M92.99 419.13H105.39" stroke="#AD5BE4" stroke-width="1" fill="none"/>
<path d="M98.91 407.95H111.31M98.91 412.78H111.31" stroke="#AD5BE4" stroke-width="1" fill="none"/>
<path d="M110.75 400.33H123.15M110.75 405.15H123.15" stroke="#AD5BE4" stroke-width="1" fill="none"/>
<path d="M140.36 389.4H152.76M140.36 396.26H152.76" stroke="#AD5BE4" stroke-width="1" fill="none"/>
<path d="M164.05 378.6H176.45M164.05 385.46H176.45" stroke="#AD5BE4" stroke-width="1" fill="none"/>
<path d="M187.74 375.42H200.14M187.74 382.28H200.14" stroke="#AD5BE4" stroke-width="1" fill="none"/>
<path d="M208.04 372.62H220.44M208.04 379.49H220.44" stroke="#AD5BE4" stroke-width="1" fill="none"/>
<path d="M235.12 364.62H247.52M235.12 371.48H247.52" stroke="#AD5BE4" stroke-width="1" fill="none"/>
<path d="M258.8 362.21H271.2M258.8 369.07H271.2" stroke="#AD5BE4" stroke-width="1" fill="none"/>
<path d="M282.49 357.25H294.89M282.49 364.11H294.89" stroke="#AD5BE4" stroke-width="1" fill="none"/>
<path d="M70.15 467.8H82.55M70.15 473.39H82.55" stroke="#52EC78" stroke-width="1" fill="none"/>
<path d="M71.84 458.14H84.24M71.84 463.73H84.24" stroke="#52EC78" stroke-width="1" fill="none"/>
<path d="M75.22 448.36H87.62M75.22 453.95H87.62" stroke="#52EC78" stroke-width="1" fill="none"/>
<path d="M81.14 438.83H93.54M81.14 444.42H93.54" stroke="#52EC78" stroke-width="1" fill="none"/>
<path d="M87.07 430.95H99.47M87.07 436.54H99.47" stroke="#52EC78" stroke-width="1" fill="none"/>
<path d="M92.99 428.92H105.39M92.99 434.51H105.39" stroke="#52EC78" stroke-width="1" fill="none"/>
<path d="M98.91 423.45H111.31M98.91 429.04H111.31" stroke="#52EC78" stroke-width="1" fill="none"/>
<path d="M110.75 415.83H123.15M110.75 421.42H123.15" stroke="#52EC78" stroke-width="1" fill="none"/>
<path d="M140.36 408.71H152.76M140.36 414.3H152.76" stroke="#52EC78" stroke-width="1" fill="none"/>
<path d="M164.05 401.47H176.45M164.05 407.06H176.45" stroke="#52EC78" stroke-width="1" fill="none"/>
<path d="M187.74 399.18H200.14M187.74 404.77H200.14" stroke="#52EC78" stroke-width="1" fill="none"/>
<path d="M208.04 399.44H220.44M208.04 405.03H220.44" stroke="#52EC78" stroke-width="1" fill="none"/>
<path d="M235.12 389.78H247.52M235.12 395.37H247.52" stroke="#52EC78" stroke-width="1" fill="none"/>
<path d="M258.8 388.38H271.2M258.8 393.97H271.2" stroke="#52EC78" stroke-width="1" fill="none"/>
<path d="M282.49 384.82H294.89M282.49 390.41H294.89" stroke="#52EC78" stroke-width="1" fill="none"/>
<path d="M70.15 478.22H82.55M70.15 480.76H82.55" stroke="#F97FF9" stroke-width="1" fill="none"/>
<path d="M71.84 478.85H84.24M71.84 481.39H84.24" stroke="#F97FF9" stroke-width="1" fill="none"/>
<path d="M75.22 478.85H87.62M75.22 481.39H87.62" stroke="#F97FF9" stroke-width="1" fill="none"/>
<path d="M81.14 478.22H93.54M81.14 480.76H93.54" stroke="#F97FF9" stroke-width="1" fill="none"/>
<path d="M87.07 477.2H99.47M87.07 479.74H99.47" stroke="#F97FF9" stroke-width="1" fill="none"/>
<path d="M92.99 478.22H105.39M92.99 480.76H105.39" stroke="#F97FF9" stroke-width="1" fill="none"/>
<path d="M98.91 478.85H111.31M98.91 481.39H111.31" stroke="#F97FF9" stroke-width="1" fill="none"/>
<path d="M110.75 477.58H123.15M110.75 480.12H123.15" stroke="#F97FF9" stroke-width="1" fill="none"/>
<path d="M140.36 477.07H152.76M140.36 479.62H152.76" stroke="#F97FF9" stroke-width="1" fill="none"/>
<path d="M164.05 476.31H176.45M164.05 478.85H176.45" stroke="#F97FF9" stroke-width="1" fill="none"/>
<path d="M187.74 475.68H200.14M187.74 478.22H200.14" stroke="#F97FF9" stroke-width="1" fill="none"/>
<path d="M208.04 477.2H220.44M208.04 479.74H220.44" stroke="#F97FF9" stroke-width="1" fill="none"/>
<path d="M235.12 477.45H247.52M235.12 480H247.52" stroke="#F97FF9" stroke-width="1" fill="none"/>
<path d="M258.8 477.2H271.2M258.8 479.74H271.2" stroke="#F97FF9" stroke-width="1" fill="none"/>
<path d="M282.49 476.95H294.89M282.49 479.49H294.89" stroke="#F97FF9" stroke-width="1" fill="none"/>
</g>
<text transform="translate(61.6 487.9) scale(0.93,1)" text-anchor="end" class="t">0</text>
<text transform="translate(61.6 424.37) scale(0.93,1)" text-anchor="end" class="t">500</text>
<text transform="translate(61.6 360.83) scale(0.93,1)" text-anchor="end" class="t">1000</text>
<text transform="translate(61.6 297.3) scale(0.93,1)" text-anchor="end" class="t">1500</text>
<text transform="translate(75.5 509.8) scale(0.93,1)" text-anchor="middle" class="t">0</text>
<text transform="translate(117.8 509.8) scale(0.93,1)" text-anchor="middle" class="t">50</text>
<text transform="translate(160.1 509.8) scale(0.93,1)" text-anchor="middle" class="t">100</text>
<text transform="translate(202.4 509.8) scale(0.93,1)" text-anchor="middle" class="t">150</text>
<text transform="translate(244.7 509.8) scale(0.93,1)" text-anchor="middle" class="t">200</text>
<text transform="translate(287 509.8) scale(0.93,1)" text-anchor="middle" class="t">250</text>
<text transform="translate(329.3 509.8) scale(0.93,1)" text-anchor="middle" class="t">300</text>
<text transform="translate(178.69 289.6) scale(0.864,1)" class="t">B11A3</text>
<text transform="translate(202.4 537.8) scale(0.95,1)" text-anchor="middle" class="t">Time (days)</text>
<text transform="translate(14.7 388) rotate(-90) scale(0.94,1)" text-anchor="middle" class="t">ETh (nm)</text>
<rect x="90.05" y="299.05" width="7.9" height="7.9" fill="#EBC133"/>
<text x="118.5" y="308.8" class="l">Si</text>
<circle cx="160.6" cy="303" r="4.25" fill="#AD5BE4"/>
<text x="185.2" y="308.8" class="l">B</text>
<path d="M94 318.73L99.3 328.13L88.7 328.13Z" fill="#52EC78"/>
<text x="118.5" y="330.8" class="l">Na</text>
<path d="M160.6 331L165.9 322L155.3 322Z" fill="#979797"/>
<text x="185.2" y="330.8" class="l">Al</text>
<path d="M94 341.3L99.7 347L94 352.7L88.3 347Z" fill="#F97FF9"/>
<text x="118.5" y="352.8" class="l">Ca</text>
<rect x="414.7" y="292.7" width="253.8" height="190.6" fill="none" stroke="#000" stroke-width="1.5"/>
<path d="M414.7 475.68h5.6M414.7 468.05h5.6M414.7 460.43h5.6M414.7 452.8h5.6M414.7 445.18h12M414.7 437.56h5.6M414.7 429.93h5.6M414.7 422.31h5.6M414.7 414.68h5.6M414.7 407.06h12M414.7 399.44h5.6M414.7 391.81h5.6M414.7 384.19h5.6M414.7 376.56h5.6M414.7 368.94h12M414.7 361.32h5.6M414.7 353.69h5.6M414.7 346.07h5.6M414.7 338.44h5.6M414.7 330.82h12M414.7 323.2h5.6M414.7 315.57h5.6M414.7 307.95h5.6M414.7 300.32h5.6M423.16 483.3v-5.6M431.62 483.3v-5.6M440.08 483.3v-5.6M448.54 483.3v-5.6M457 483.3v-12M465.46 483.3v-5.6M473.92 483.3v-5.6M482.38 483.3v-5.6M490.84 483.3v-5.6M499.3 483.3v-12M507.76 483.3v-5.6M516.22 483.3v-5.6M524.68 483.3v-5.6M533.14 483.3v-5.6M541.6 483.3v-12M550.06 483.3v-5.6M558.52 483.3v-5.6M566.98 483.3v-5.6M575.44 483.3v-5.6M583.9 483.3v-12M592.36 483.3v-5.6M600.82 483.3v-5.6M609.28 483.3v-5.6M617.74 483.3v-5.6M626.2 483.3v-12M634.66 483.3v-5.6M643.12 483.3v-5.6M651.58 483.3v-5.6M660.04 483.3v-5.6" stroke="#000" stroke-width="1.3" fill="none"/>
<g clip-path="url(#c3)">
<rect x="411.6" y="475.54" width="7.9" height="7.9" fill="#EBC133"/>
<rect x="413.29" y="475.54" width="7.9" height="7.9" fill="#EBC133"/>
<rect x="416.67" y="475.54" width="7.9" height="7.9" fill="#EBC133"/>
<rect x="422.59" y="475.54" width="7.9" height="7.9" fill="#EBC133"/>
<rect x="428.52" y="474.78" width="7.9" height="7.9" fill="#EBC133"/>
<rect x="434.44" y="474.78" width="7.9" height="7.9" fill="#EBC133"/>
<rect x="440.36" y="475.54" width="7.9" height="7.9" fill="#EBC133"/>
<rect x="452.2" y="474.01" width="7.9" height="7.9" fill="#EBC133"/>
<rect x="481.81" y="475.54" width="7.9" height="7.9" fill="#EBC133"/>
<rect x="505.5" y="472.87" width="7.9" height="7.9" fill="#EBC133"/>
<rect x="529.19" y="473.25" width="7.9" height="7.9" fill="#EBC133"/>
<rect x="549.49" y="474.78" width="7.9" height="7.9" fill="#EBC133"/>
<rect x="568.11" y="473.25" width="7.9" height="7.9" fill="#EBC133"/>
<rect x="600.25" y="472.49" width="7.9" height="7.9" fill="#EBC133"/>
<rect x="623.94" y="472.87" width="7.9" height="7.9" fill="#EBC133"/>
<circle cx="415.55" cy="464.24" r="4.25" fill="#AD5BE4"/>
<circle cx="417.24" cy="450.21" r="4.25" fill="#AD5BE4"/>
<circle cx="420.62" cy="439.2" r="4.25" fill="#AD5BE4"/>
<circle cx="426.54" cy="427.3" r="4.25" fill="#AD5BE4"/>
<circle cx="432.47" cy="422.19" r="4.25" fill="#AD5BE4"/>
<circle cx="438.39" cy="417.81" r="4.25" fill="#AD5BE4"/>
<circle cx="444.31" cy="413.31" r="4.25" fill="#AD5BE4"/>
<circle cx="456.15" cy="406.3" r="4.25" fill="#AD5BE4"/>
<circle cx="485.76" cy="397.3" r="4.25" fill="#AD5BE4"/>
<circle cx="509.45" cy="387.39" r="4.25" fill="#AD5BE4"/>
<circle cx="533.14" cy="384.99" r="4.25" fill="#AD5BE4"/>
<circle cx="553.44" cy="382.09" r="4.25" fill="#AD5BE4"/>
<circle cx="572.06" cy="379.19" r="4.25" fill="#AD5BE4"/>
<circle cx="604.2" cy="372.79" r="4.25" fill="#AD5BE4"/>
<circle cx="627.89" cy="373.4" r="4.25" fill="#AD5BE4"/>
<path d="M415.55 457.52L420.85 466.92L410.25 466.92Z" fill="#52EC78"/>
<path d="M417.24 448.63L422.54 458.03L411.94 458.03Z" fill="#52EC78"/>
<path d="M420.62 437.73L425.92 447.13L415.32 447.13Z" fill="#52EC78"/>
<path d="M426.54 428.13L431.84 437.53L421.24 437.53Z" fill="#52EC78"/>
<path d="M432.47 423.32L437.77 432.72L427.17 432.72Z" fill="#52EC78"/>
<path d="M438.39 421.34L443.69 430.74L433.09 430.74Z" fill="#52EC78"/>
<path d="M444.31 418.94L449.61 428.34L439.01 428.34Z" fill="#52EC78"/>
<path d="M456.15 411.05L461.45 420.45L450.85 420.45Z" fill="#52EC78"/>
<path d="M485.76 403.42L491.06 412.82L480.46 412.82Z" fill="#52EC78"/>
<path d="M509.45 395.53L514.75 404.93L504.15 404.93Z" fill="#52EC78"/>
<path d="M533.14 394.05L538.44 403.45L527.84 403.45Z" fill="#52EC78"/>
<path d="M553.44 390.84L558.74 400.24L548.14 400.24Z" fill="#52EC78"/>
<path d="M572.06 390.35L577.36 399.75L566.76 399.75Z" fill="#52EC78"/>
<path d="M604.2 383.03L609.5 392.43L598.9 392.43Z" fill="#52EC78"/>
<path d="M627.89 382.42L633.19 391.82L622.59 391.82Z" fill="#52EC78"/>
<path d="M415.55 488.92L420.85 479.92L410.25 479.92Z" fill="#979797"/>
<path d="M417.24 488.92L422.54 479.92L411.94 479.92Z" fill="#979797"/>
<path d="M420.62 488.92L425.92 479.92L415.32 479.92Z" fill="#979797"/>
<path d="M426.54 488.92L431.84 479.92L421.24 479.92Z" fill="#979797"/>
<path d="M432.47 488.92L437.77 479.92L427.17 479.92Z" fill="#979797"/>
<path d="M438.39 488.92L443.69 479.92L433.09 479.92Z" fill="#979797"/>
<path d="M444.31 488.92L449.61 479.92L439.01 479.92Z" fill="#979797"/>
<path d="M456.15 488.92L461.45 479.92L450.85 479.92Z" fill="#979797"/>
<path d="M485.76 488.92L491.06 479.92L480.46 479.92Z" fill="#979797"/>
<path d="M509.45 488.92L514.75 479.92L504.15 479.92Z" fill="#979797"/>
<path d="M533.14 488.92L538.44 479.92L527.84 479.92Z" fill="#979797"/>
<path d="M553.44 488.92L558.74 479.92L548.14 479.92Z" fill="#979797"/>
<path d="M572.06 488.92L577.36 479.92L566.76 479.92Z" fill="#979797"/>
<path d="M604.2 488.92L609.5 479.92L598.9 479.92Z" fill="#979797"/>
<path d="M627.89 488.92L633.19 479.92L622.59 479.92Z" fill="#979797"/>
<path d="M415.55 474.17L421.25 479.87L415.55 485.57L409.85 479.87Z" fill="#F97FF9"/>
<path d="M417.24 474.55L422.94 480.25L417.24 485.95L411.54 480.25Z" fill="#F97FF9"/>
<path d="M420.62 474.55L426.32 480.25L420.62 485.95L414.92 480.25Z" fill="#F97FF9"/>
<path d="M426.54 474.17L432.24 479.87L426.54 485.57L420.84 479.87Z" fill="#F97FF9"/>
<path d="M432.47 474.17L438.17 479.87L432.47 485.57L426.77 479.87Z" fill="#F97FF9"/>
<path d="M438.39 474.17L444.09 479.87L438.39 485.57L432.69 479.87Z" fill="#F97FF9"/>
<path d="M444.31 474.17L450.01 479.87L444.31 485.57L438.61 479.87Z" fill="#F97FF9"/>
<path d="M456.15 474.17L461.85 479.87L456.15 485.57L450.45 479.87Z" fill="#F97FF9"/>
<path d="M485.76 474.55L491.46 480.25L485.76 485.95L480.06 480.25Z" fill="#F97FF9"/>
<path d="M509.45 474.93L515.15 480.63L509.45 486.33L503.75 480.63Z" fill="#F97FF9"/>
<path d="M533.14 474.93L538.84 480.63L533.14 486.33L527.44 480.63Z" fill="#F97FF9"/>
<path d="M553.44 474.93L559.14 480.63L553.44 486.33L547.74 480.63Z" fill="#F97FF9"/>
<path d="M572.06 474.93L577.76 480.63L572.06 486.33L566.36 480.63Z" fill="#F97FF9"/>
<path d="M604.2 474.93L609.9 480.63L604.2 486.33L598.5 480.63Z" fill="#F97FF9"/>
<path d="M627.89 474.93L633.59 480.63L627.89 486.33L622.19 480.63Z" fill="#F97FF9"/>
<path d="M409.35 477.96H421.75M409.35 481.01H421.75" stroke="#EBC133" stroke-width="1" fill="none"/>
<path d="M411.04 477.96H423.44M411.04 481.01H423.44" stroke="#EBC133" stroke-width="1" fill="none"/>
<path d="M414.42 477.96H426.82M414.42 481.01H426.82" stroke="#EBC133" stroke-width="1" fill="none"/>
<path d="M420.34 477.96H432.74M420.34 481.01H432.74" stroke="#EBC133" stroke-width="1" fill="none"/>
<path d="M426.27 477.2H438.67M426.27 480.25H438.67" stroke="#EBC133" stroke-width="1" fill="none"/>
<path d="M432.19 477.2H444.59M432.19 480.25H444.59" stroke="#EBC133" stroke-width="1" fill="none"/>
<path d="M438.11 477.96H450.51M438.11 481.01H450.51" stroke="#EBC133" stroke-width="1" fill="none"/>
<path d="M449.95 476.44H462.35M449.95 479.49H462.35" stroke="#EBC133" stroke-width="1" fill="none"/>
<path d="M479.56 477.96H491.96M479.56 481.01H491.96" stroke="#EBC133" stroke-width="1" fill="none"/>
<path d="M503.25 475.29H515.65M503.25 478.34H515.65" stroke="#EBC133" stroke-width="1" fill="none"/>
<path d="M526.94 475.68H539.34M526.94 478.73H539.34" stroke="#EBC133" stroke-width="1" fill="none"/>
<path d="M547.24 477.2H559.64M547.24 480.25H559.64" stroke="#EBC133" stroke-width="1" fill="none"/>
<path d="M565.86 475.68H578.26M565.86 478.73H578.26" stroke="#EBC133" stroke-width="1" fill="none"/>
<path d="M598 474.91H610.4M598 477.96H610.4" stroke="#EBC133" stroke-width="1" fill="none"/>
<path d="M621.69 475.29H634.09M621.69 478.34H634.09" stroke="#EBC133" stroke-width="1" fill="none"/>
<path d="M409.35 461.19H421.75M409.35 467.29H421.75" stroke="#AD5BE4" stroke-width="1" fill="none"/>
<path d="M411.04 447.16H423.44M411.04 453.26H423.44" stroke="#AD5BE4" stroke-width="1" fill="none"/>
<path d="M414.42 436.15H426.82M414.42 442.24H426.82" stroke="#AD5BE4" stroke-width="1" fill="none"/>
<path d="M420.34 424.25H432.74M420.34 430.35H432.74" stroke="#AD5BE4" stroke-width="1" fill="none"/>
<path d="M426.27 419.14H438.67M426.27 425.24H438.67" stroke="#AD5BE4" stroke-width="1" fill="none"/>
<path d="M432.19 414.76H444.59M432.19 420.86H444.59" stroke="#AD5BE4" stroke-width="1" fill="none"/>
<path d="M438.11 410.26H450.51M438.11 416.36H450.51" stroke="#AD5BE4" stroke-width="1" fill="none"/>
<path d="M449.95 403.25H462.35M449.95 409.35H462.35" stroke="#AD5BE4" stroke-width="1" fill="none"/>
<path d="M479.56 394.25H491.96M479.56 400.35H491.96" stroke="#AD5BE4" stroke-width="1" fill="none"/>
<path d="M503.25 384.34H515.65M503.25 390.44H515.65" stroke="#AD5BE4" stroke-width="1" fill="none"/>
<path d="M526.94 381.94H539.34M526.94 388.04H539.34" stroke="#AD5BE4" stroke-width="1" fill="none"/>
<path d="M547.24 379.04H559.64M547.24 385.14H559.64" stroke="#AD5BE4" stroke-width="1" fill="none"/>
<path d="M565.86 376.14H578.26M565.86 382.24H578.26" stroke="#AD5BE4" stroke-width="1" fill="none"/>
<path d="M598 369.74H610.4M598 375.84H610.4" stroke="#AD5BE4" stroke-width="1" fill="none"/>
<path d="M621.69 370.35H634.09M621.69 376.45H634.09" stroke="#AD5BE4" stroke-width="1" fill="none"/>
<path d="M409.35 461.11H421.75M409.35 466.45H421.75" stroke="#52EC78" stroke-width="1" fill="none"/>
<path d="M411.04 452.23H423.44M411.04 457.57H423.44" stroke="#52EC78" stroke-width="1" fill="none"/>
<path d="M414.42 441.33H426.82M414.42 446.67H426.82" stroke="#52EC78" stroke-width="1" fill="none"/>
<path d="M420.34 431.72H432.74M420.34 437.06H432.74" stroke="#52EC78" stroke-width="1" fill="none"/>
<path d="M426.27 426.92H438.67M426.27 432.26H438.67" stroke="#52EC78" stroke-width="1" fill="none"/>
<path d="M432.19 424.94H444.59M432.19 430.28H444.59" stroke="#52EC78" stroke-width="1" fill="none"/>
<path d="M438.11 422.54H450.51M438.11 427.87H450.51" stroke="#52EC78" stroke-width="1" fill="none"/>
<path d="M449.95 414.65H462.35M449.95 419.98H462.35" stroke="#52EC78" stroke-width="1" fill="none"/>
<path d="M479.56 407.02H491.96M479.56 412.36H491.96" stroke="#52EC78" stroke-width="1" fill="none"/>
<path d="M503.25 399.13H515.65M503.25 404.47H515.65" stroke="#52EC78" stroke-width="1" fill="none"/>
<path d="M526.94 397.64H539.34M526.94 402.98H539.34" stroke="#52EC78" stroke-width="1" fill="none"/>
<path d="M547.24 394.44H559.64M547.24 399.78H559.64" stroke="#52EC78" stroke-width="1" fill="none"/>
<path d="M565.86 393.95H578.26M565.86 399.28H578.26" stroke="#52EC78" stroke-width="1" fill="none"/>
<path d="M598 386.63H610.4M598 391.96H610.4" stroke="#52EC78" stroke-width="1" fill="none"/>
<path d="M621.69 386.02H634.09M621.69 391.35H634.09" stroke="#52EC78" stroke-width="1" fill="none"/>
<path d="M409.35 478.73H421.75M409.35 481.01H421.75" stroke="#F97FF9" stroke-width="1" fill="none"/>
<path d="M411.04 479.11H423.44M411.04 481.39H423.44" stroke="#F97FF9" stroke-width="1" fill="none"/>
<path d="M414.42 479.11H426.82M414.42 481.39H426.82" stroke="#F97FF9" stroke-width="1" fill="none"/>
<path d="M420.34 478.73H432.74M420.34 481.01H432.74" stroke="#F97FF9" stroke-width="1" fill="none"/>
<path d="M426.27 478.73H438.67M426.27 481.01H438.67" stroke="#F97FF9" stroke-width="1" fill="none"/>
<path d="M432.19 478.73H444.59M432.19 481.01H444.59" stroke="#F97FF9" stroke-width="1" fill="none"/>
<path d="M438.11 478.73H450.51M438.11 481.01H450.51" stroke="#F97FF9" stroke-width="1" fill="none"/>
<path d="M449.95 478.73H462.35M449.95 481.01H462.35" stroke="#F97FF9" stroke-width="1" fill="none"/>
<path d="M479.56 479.11H491.96M479.56 481.39H491.96" stroke="#F97FF9" stroke-width="1" fill="none"/>
<path d="M503.25 479.49H515.65M503.25 481.78H515.65" stroke="#F97FF9" stroke-width="1" fill="none"/>
<path d="M526.94 479.49H539.34M526.94 481.78H539.34" stroke="#F97FF9" stroke-width="1" fill="none"/>
<path d="M547.24 479.49H559.64M547.24 481.78H559.64" stroke="#F97FF9" stroke-width="1" fill="none"/>
<path d="M565.86 479.49H578.26M565.86 481.78H578.26" stroke="#F97FF9" stroke-width="1" fill="none"/>
<path d="M598 479.49H610.4M598 481.78H610.4" stroke="#F97FF9" stroke-width="1" fill="none"/>
<path d="M621.69 479.49H634.09M621.69 481.78H634.09" stroke="#F97FF9" stroke-width="1" fill="none"/>
</g>
<text transform="translate(400.8 487.9) scale(0.93,1)" text-anchor="end" class="t">0</text>
<text transform="translate(400.8 449.78) scale(0.93,1)" text-anchor="end" class="t">100</text>
<text transform="translate(400.8 411.66) scale(0.93,1)" text-anchor="end" class="t">200</text>
<text transform="translate(400.8 373.54) scale(0.93,1)" text-anchor="end" class="t">300</text>
<text transform="translate(400.8 335.42) scale(0.93,1)" text-anchor="end" class="t">400</text>
<text transform="translate(400.8 297.3) scale(0.93,1)" text-anchor="end" class="t">500</text>
<text transform="translate(414.7 509.8) scale(0.93,1)" text-anchor="middle" class="t">0</text>
<text transform="translate(457 509.8) scale(0.93,1)" text-anchor="middle" class="t">50</text>
<text transform="translate(499.3 509.8) scale(0.93,1)" text-anchor="middle" class="t">100</text>
<text transform="translate(541.6 509.8) scale(0.93,1)" text-anchor="middle" class="t">150</text>
<text transform="translate(583.9 509.8) scale(0.93,1)" text-anchor="middle" class="t">200</text>
<text transform="translate(626.2 509.8) scale(0.93,1)" text-anchor="middle" class="t">250</text>
<text transform="translate(668.5 509.8) scale(0.93,1)" text-anchor="middle" class="t">300</text>
<text transform="translate(514.74 289.6) scale(0.899,1)" class="t">B10A2</text>
<text transform="translate(541.6 537.8) scale(0.95,1)" text-anchor="middle" class="t">Time (days)</text>
<text transform="translate(360.9 388) rotate(-90) scale(0.94,1)" text-anchor="middle" class="t">ETh (nm)</text>
<rect x="429.85" y="298.75" width="7.9" height="7.9" fill="#EBC133"/>
<text x="458" y="308.5" class="l">Si</text>
<circle cx="499.6" cy="302.7" r="4.25" fill="#AD5BE4"/>
<text x="524.2" y="308.5" class="l">B</text>
<path d="M433.8 318.43L439.1 327.83L428.5 327.83Z" fill="#52EC78"/>
<text x="458" y="330.5" class="l">Na</text>
<path d="M499.6 330.7L504.9 321.7L494.3 321.7Z" fill="#979797"/>
<text x="524.2" y="330.5" class="l">Al</text>
<path d="M433.8 341L439.5 346.7L433.8 352.4L428.1 346.7Z" fill="#F97FF9"/>
<text x="458" y="352.5" class="l">Ca</text>
<rect x="75.5" y="567.8" width="253.8" height="190.6" fill="none" stroke="#000" stroke-width="1.5"/>
<path d="M75.5 745.69h5.6M75.5 732.99h5.6M75.5 720.28h5.6M75.5 707.57h5.6M75.5 694.87h12M75.5 682.16h5.6M75.5 669.45h5.6M75.5 656.75h5.6M75.5 644.04h5.6M75.5 631.33h12M75.5 618.63h5.6M75.5 605.92h5.6M75.5 593.21h5.6M75.5 580.51h5.6M83.96 758.4v-5.6M92.42 758.4v-5.6M100.88 758.4v-5.6M109.34 758.4v-5.6M117.8 758.4v-12M126.26 758.4v-5.6M134.72 758.4v-5.6M143.18 758.4v-5.6M151.64 758.4v-5.6M160.1 758.4v-12M168.56 758.4v-5.6M177.02 758.4v-5.6M185.48 758.4v-5.6M193.94 758.4v-5.6M202.4 758.4v-12M210.86 758.4v-5.6M219.32 758.4v-5.6M227.78 758.4v-5.6M236.24 758.4v-5.6M244.7 758.4v-12M253.16 758.4v-5.6M261.62 758.4v-5.6M270.08 758.4v-5.6M278.54 758.4v-5.6M287 758.4v-12M295.46 758.4v-5.6M303.92 758.4v-5.6M312.38 758.4v-5.6M320.84 758.4v-5.6" stroke="#000" stroke-width="1.3" fill="none"/>
<g clip-path="url(#c4)">
<rect x="72.4" y="752.04" width="7.9" height="7.9" fill="#EBC133"/>
<rect x="74.09" y="752.04" width="7.9" height="7.9" fill="#EBC133"/>
<rect x="77.47" y="752.04" width="7.9" height="7.9" fill="#EBC133"/>
<rect x="83.39" y="752.04" width="7.9" height="7.9" fill="#EBC133"/>
<rect x="89.32" y="751.27" width="7.9" height="7.9" fill="#EBC133"/>
<rect x="95.24" y="751.91" width="7.9" height="7.9" fill="#EBC133"/>
<rect x="101.16" y="752.04" width="7.9" height="7.9" fill="#EBC133"/>
<rect x="113" y="751.27" width="7.9" height="7.9" fill="#EBC133"/>
<rect x="142.61" y="751.27" width="7.9" height="7.9" fill="#EBC133"/>
<rect x="166.3" y="750.64" width="7.9" height="7.9" fill="#EBC133"/>
<rect x="189.99" y="750" width="7.9" height="7.9" fill="#EBC133"/>
<rect x="210.29" y="746.57" width="7.9" height="7.9" fill="#EBC133"/>
<rect x="237.37" y="749.37" width="7.9" height="7.9" fill="#EBC133"/>
<rect x="261.05" y="749.37" width="7.9" height="7.9" fill="#EBC133"/>
<rect x="284.74" y="748.1" width="7.9" height="7.9" fill="#EBC133"/>
<circle cx="76.35" cy="700.97" r="4.25" fill="#AD5BE4"/>
<circle cx="78.04" cy="684.45" r="4.25" fill="#AD5BE4"/>
<circle cx="81.42" cy="671.23" r="4.25" fill="#AD5BE4"/>
<circle cx="87.34" cy="661.96" r="4.25" fill="#AD5BE4"/>
<circle cx="93.27" cy="656.11" r="4.25" fill="#AD5BE4"/>
<circle cx="99.19" cy="653.44" r="4.25" fill="#AD5BE4"/>
<circle cx="105.11" cy="647.47" r="4.25" fill="#AD5BE4"/>
<circle cx="116.95" cy="645.69" r="4.25" fill="#AD5BE4"/>
<circle cx="146.56" cy="635.02" r="4.25" fill="#AD5BE4"/>
<circle cx="170.25" cy="630.7" r="4.25" fill="#AD5BE4"/>
<circle cx="193.94" cy="627.27" r="4.25" fill="#AD5BE4"/>
<circle cx="214.24" cy="627.78" r="4.25" fill="#AD5BE4"/>
<circle cx="241.32" cy="625.36" r="4.25" fill="#AD5BE4"/>
<circle cx="265" cy="621.04" r="4.25" fill="#AD5BE4"/>
<circle cx="288.69" cy="621.93" r="4.25" fill="#AD5BE4"/>
<path d="M76.35 703.72L81.65 713.12L71.05 713.12Z" fill="#52EC78"/>
<path d="M78.04 689.49L83.34 698.89L72.74 698.89Z" fill="#52EC78"/>
<path d="M81.42 683.64L86.72 693.04L76.12 693.04Z" fill="#52EC78"/>
<path d="M87.34 674.75L92.64 684.15L82.04 684.15Z" fill="#52EC78"/>
<path d="M93.27 670.94L98.57 680.34L87.97 680.34Z" fill="#52EC78"/>
<path d="M99.19 668.27L104.49 677.67L93.89 677.67Z" fill="#52EC78"/>
<path d="M105.11 664.71L110.41 674.11L99.81 674.11Z" fill="#52EC78"/>
<path d="M116.95 662.04L122.25 671.44L111.65 671.44Z" fill="#52EC78"/>
<path d="M146.56 654.04L151.86 663.44L141.26 663.44Z" fill="#52EC78"/>
<path d="M170.25 651.62L175.55 661.02L164.95 661.02Z" fill="#52EC78"/>
<path d="M193.94 649.34L199.24 658.74L188.64 658.74Z" fill="#52EC78"/>
<path d="M214.24 648.7L219.54 658.1L208.94 658.1Z" fill="#52EC78"/>
<path d="M241.32 647.3L246.62 656.7L236.02 656.7Z" fill="#52EC78"/>
<path d="M265 645.91L270.3 655.31L259.7 655.31Z" fill="#52EC78"/>
<path d="M288.69 642.09L293.99 651.49L283.39 651.49Z" fill="#52EC78"/>
<path d="M76.35 761.99L81.65 752.99L71.05 752.99Z" fill="#979797"/>
<path d="M78.04 761.99L83.34 752.99L72.74 752.99Z" fill="#979797"/>
<path d="M81.42 761.99L86.72 752.99L76.12 752.99Z" fill="#979797"/>
<path d="M87.34 761.99L92.64 752.99L82.04 752.99Z" fill="#979797"/>
<path d="M93.27 761.99L98.57 752.99L87.97 752.99Z" fill="#979797"/>
<path d="M99.19 761.99L104.49 752.99L93.89 752.99Z" fill="#979797"/>
<path d="M105.11 761.99L110.41 752.99L99.81 752.99Z" fill="#979797"/>
<path d="M116.95 761.99L122.25 752.99L111.65 752.99Z" fill="#979797"/>
<path d="M146.56 761.99L151.86 752.99L141.26 752.99Z" fill="#979797"/>
<path d="M170.25 761.99L175.55 752.99L164.95 752.99Z" fill="#979797"/>
<path d="M193.94 761.99L199.24 752.99L188.64 752.99Z" fill="#979797"/>
<path d="M214.24 761.99L219.54 752.99L208.94 752.99Z" fill="#979797"/>
<path d="M241.32 761.99L246.62 752.99L236.02 752.99Z" fill="#979797"/>
<path d="M265 761.99L270.3 752.99L259.7 752.99Z" fill="#979797"/>
<path d="M288.69 761.99L293.99 752.99L283.39 752.99Z" fill="#979797"/>
<path d="M76.35 745.71L82.05 751.41L76.35 757.11L70.65 751.41Z" fill="#F97FF9"/>
<path d="M78.04 745.08L83.74 750.78L78.04 756.48L72.34 750.78Z" fill="#F97FF9"/>
<path d="M81.42 745.71L87.12 751.41L81.42 757.11L75.72 751.41Z" fill="#F97FF9"/>
<path d="M87.34 745.33L93.04 751.03L87.34 756.73L81.64 751.03Z" fill="#F97FF9"/>
<path d="M93.27 745.08L98.97 750.78L93.27 756.48L87.57 750.78Z" fill="#F97FF9"/>
<path d="M99.19 745.33L104.89 751.03L99.19 756.73L93.49 751.03Z" fill="#F97FF9"/>
<path d="M105.11 746.35L110.81 752.05L105.11 757.75L99.41 752.05Z" fill="#F97FF9"/>
<path d="M116.95 745.71L122.65 751.41L116.95 757.11L111.25 751.41Z" fill="#F97FF9"/>
<path d="M146.56 745.33L152.26 751.03L146.56 756.73L140.86 751.03Z" fill="#F97FF9"/>
<path d="M170.25 745.33L175.95 751.03L170.25 756.73L164.55 751.03Z" fill="#F97FF9"/>
<path d="M193.94 746.09L199.64 751.79L193.94 757.49L188.24 751.79Z" fill="#F97FF9"/>
<path d="M214.24 746.35L219.94 752.05L214.24 757.75L208.54 752.05Z" fill="#F97FF9"/>
<path d="M241.32 746.09L247.02 751.79L241.32 757.49L235.62 751.79Z" fill="#F97FF9"/>
<path d="M265 746.09L270.7 751.79L265 757.49L259.3 751.79Z" fill="#F97FF9"/>
<path d="M288.69 746.09L294.39 751.79L288.69 757.49L282.99 751.79Z" fill="#F97FF9"/>
<path d="M70.15 754.72H82.55M70.15 757.26H82.55" stroke="#EBC133" stroke-width="1" fill="none"/>
<path d="M71.84 754.72H84.24M71.84 757.26H84.24" stroke="#EBC133" stroke-width="1" fill="none"/>
<path d="M75.22 754.72H87.62M75.22 757.26H87.62" stroke="#EBC133" stroke-width="1" fill="none"/>
<path d="M81.14 754.72H93.54M81.14 757.26H93.54" stroke="#EBC133" stroke-width="1" fill="none"/>
<path d="M87.07 753.95H99.47M87.07 756.49H99.47" stroke="#EBC133" stroke-width="1" fill="none"/>
<path d="M92.99 754.59H105.39M92.99 757.13H105.39" stroke="#EBC133" stroke-width="1" fill="none"/>
<path d="M98.91 754.72H111.31M98.91 757.26H111.31" stroke="#EBC133" stroke-width="1" fill="none"/>
<path d="M110.75 753.95H123.15M110.75 756.49H123.15" stroke="#EBC133" stroke-width="1" fill="none"/>
<path d="M140.36 753.95H152.76M140.36 756.49H152.76" stroke="#EBC133" stroke-width="1" fill="none"/>
<path d="M164.05 753.32H176.45M164.05 755.86H176.45" stroke="#EBC133" stroke-width="1" fill="none"/>
<path d="M187.74 752.68H200.14M187.74 755.22H200.14" stroke="#EBC133" stroke-width="1" fill="none"/>
<path d="M208.04 749.25H220.44M208.04 751.79H220.44" stroke="#EBC133" stroke-width="1" fill="none"/>
<path d="M235.12 752.05H247.52M235.12 754.59H247.52" stroke="#EBC133" stroke-width="1" fill="none"/>
<path d="M258.8 752.05H271.2M258.8 754.59H271.2" stroke="#EBC133" stroke-width="1" fill="none"/>
<path d="M282.49 750.78H294.89M282.49 753.32H294.89" stroke="#EBC133" stroke-width="1" fill="none"/>
<path d="M70.15 698.42H82.55M70.15 703.51H82.55" stroke="#AD5BE4" stroke-width="1" fill="none"/>
<path d="M71.84 681.91H84.24M71.84 686.99H84.24" stroke="#AD5BE4" stroke-width="1" fill="none"/>
<path d="M75.22 668.69H87.62M75.22 673.77H87.62" stroke="#AD5BE4" stroke-width="1" fill="none"/>
<path d="M81.14 659.42H93.54M81.14 664.5H93.54" stroke="#AD5BE4" stroke-width="1" fill="none"/>
<path d="M87.07 653.57H99.47M87.07 658.65H99.47" stroke="#AD5BE4" stroke-width="1" fill="none"/>
<path d="M92.99 650.9H105.39M92.99 655.98H105.39" stroke="#AD5BE4" stroke-width="1" fill="none"/>
<path d="M98.91 644.93H111.31M98.91 650.01H111.31" stroke="#AD5BE4" stroke-width="1" fill="none"/>
<path d="M110.75 643.15H123.15M110.75 648.23H123.15" stroke="#AD5BE4" stroke-width="1" fill="none"/>
<path d="M140.36 631.59H152.76M140.36 638.45H152.76" stroke="#AD5BE4" stroke-width="1" fill="none"/>
<path d="M164.05 627.27H176.45M164.05 634.13H176.45" stroke="#AD5BE4" stroke-width="1" fill="none"/>
<path d="M187.74 623.84H200.14M187.74 630.7H200.14" stroke="#AD5BE4" stroke-width="1" fill="none"/>
<path d="M208.04 624.34H220.44M208.04 631.21H220.44" stroke="#AD5BE4" stroke-width="1" fill="none"/>
<path d="M235.12 621.93H247.52M235.12 628.79H247.52" stroke="#AD5BE4" stroke-width="1" fill="none"/>
<path d="M258.8 617.61H271.2M258.8 624.47H271.2" stroke="#AD5BE4" stroke-width="1" fill="none"/>
<path d="M282.49 618.5H294.89M282.49 625.36H294.89" stroke="#AD5BE4" stroke-width="1" fill="none"/>
<path d="M70.15 707.19H82.55M70.15 712.78H82.55" stroke="#52EC78" stroke-width="1" fill="none"/>
<path d="M71.84 692.96H84.24M71.84 698.55H84.24" stroke="#52EC78" stroke-width="1" fill="none"/>
<path d="M75.22 687.12H87.62M75.22 692.71H87.62" stroke="#52EC78" stroke-width="1" fill="none"/>
<path d="M81.14 678.22H93.54M81.14 683.81H93.54" stroke="#52EC78" stroke-width="1" fill="none"/>
<path d="M87.07 674.41H99.47M87.07 680H99.47" stroke="#52EC78" stroke-width="1" fill="none"/>
<path d="M92.99 671.74H105.39M92.99 677.33H105.39" stroke="#52EC78" stroke-width="1" fill="none"/>
<path d="M98.91 668.18H111.31M98.91 673.77H111.31" stroke="#52EC78" stroke-width="1" fill="none"/>
<path d="M110.75 665.51H123.15M110.75 671.11H123.15" stroke="#52EC78" stroke-width="1" fill="none"/>
<path d="M140.36 657.51H152.76M140.36 663.1H152.76" stroke="#52EC78" stroke-width="1" fill="none"/>
<path d="M164.05 655.09H176.45M164.05 660.69H176.45" stroke="#52EC78" stroke-width="1" fill="none"/>
<path d="M187.74 652.81H200.14M187.74 658.4H200.14" stroke="#52EC78" stroke-width="1" fill="none"/>
<path d="M208.04 652.17H220.44M208.04 657.76H220.44" stroke="#52EC78" stroke-width="1" fill="none"/>
<path d="M235.12 650.77H247.52M235.12 656.37H247.52" stroke="#52EC78" stroke-width="1" fill="none"/>
<path d="M258.8 649.38H271.2M258.8 654.97H271.2" stroke="#52EC78" stroke-width="1" fill="none"/>
<path d="M282.49 645.56H294.89M282.49 651.16H294.89" stroke="#52EC78" stroke-width="1" fill="none"/>
<path d="M70.15 750.14H82.55M70.15 752.68H82.55" stroke="#F97FF9" stroke-width="1" fill="none"/>
<path d="M71.84 749.51H84.24M71.84 752.05H84.24" stroke="#F97FF9" stroke-width="1" fill="none"/>
<path d="M75.22 750.14H87.62M75.22 752.68H87.62" stroke="#F97FF9" stroke-width="1" fill="none"/>
<path d="M81.14 749.76H93.54M81.14 752.3H93.54" stroke="#F97FF9" stroke-width="1" fill="none"/>
<path d="M87.07 749.51H99.47M87.07 752.05H99.47" stroke="#F97FF9" stroke-width="1" fill="none"/>
<path d="M92.99 749.76H105.39M92.99 752.3H105.39" stroke="#F97FF9" stroke-width="1" fill="none"/>
<path d="M98.91 750.78H111.31M98.91 753.32H111.31" stroke="#F97FF9" stroke-width="1" fill="none"/>
<path d="M110.75 750.14H123.15M110.75 752.68H123.15" stroke="#F97FF9" stroke-width="1" fill="none"/>
<path d="M140.36 749.76H152.76M140.36 752.3H152.76" stroke="#F97FF9" stroke-width="1" fill="none"/>
<path d="M164.05 749.76H176.45M164.05 752.3H176.45" stroke="#F97FF9" stroke-width="1" fill="none"/>
<path d="M187.74 750.52H200.14M187.74 753.06H200.14" stroke="#F97FF9" stroke-width="1" fill="none"/>
<path d="M208.04 750.78H220.44M208.04 753.32H220.44" stroke="#F97FF9" stroke-width="1" fill="none"/>
<path d="M235.12 750.52H247.52M235.12 753.06H247.52" stroke="#F97FF9" stroke-width="1" fill="none"/>
<path d="M258.8 750.52H271.2M258.8 753.06H271.2" stroke="#F97FF9" stroke-width="1" fill="none"/>
<path d="M282.49 750.52H294.89M282.49 753.06H294.89" stroke="#F97FF9" stroke-width="1" fill="none"/>
</g>
<text transform="translate(61.6 763) scale(0.93,1)" text-anchor="end" class="t">0</text>
<text transform="translate(61.6 699.47) scale(0.93,1)" text-anchor="end" class="t">500</text>
<text transform="translate(61.6 635.93) scale(0.93,1)" text-anchor="end" class="t">1000</text>
<text transform="translate(61.6 572.4) scale(0.93,1)" text-anchor="end" class="t">1500</text>
<text transform="translate(75.5 784.9) scale(0.93,1)" text-anchor="middle" class="t">0</text>
<text transform="translate(117.8 784.9) scale(0.93,1)" text-anchor="middle" class="t">50</text>
<text transform="translate(160.1 784.9) scale(0.93,1)" text-anchor="middle" class="t">100</text>
<text transform="translate(202.4 784.9) scale(0.93,1)" text-anchor="middle" class="t">150</text>
<text transform="translate(244.7 784.9) scale(0.93,1)" text-anchor="middle" class="t">200</text>
<text transform="translate(287 784.9) scale(0.93,1)" text-anchor="middle" class="t">250</text>
<text transform="translate(329.3 784.9) scale(0.93,1)" text-anchor="middle" class="t">300</text>
<text transform="translate(179.44 564.7) scale(0.903,1)" class="t">B14A3</text>
<text transform="translate(202.4 812.9) scale(0.95,1)" text-anchor="middle" class="t">Time (days)</text>
<text transform="translate(14.7 663.1) rotate(-90) scale(0.94,1)" text-anchor="middle" class="t">ETh (nm)</text>
<rect x="88.95" y="574.05" width="7.9" height="7.9" fill="#EBC133"/>
<text x="117.3" y="583.8" class="l">Si</text>
<circle cx="159.7" cy="578" r="4.25" fill="#AD5BE4"/>
<text x="184.2" y="583.8" class="l">B</text>
<path d="M92.9 593.73L98.2 603.13L87.6 603.13Z" fill="#52EC78"/>
<text x="117.3" y="605.8" class="l">Na</text>
<path d="M159.7 606L165 597L154.4 597Z" fill="#979797"/>
<text x="184.2" y="605.8" class="l">Al</text>
<path d="M92.9 616.3L98.6 622L92.9 627.7L87.2 622Z" fill="#F97FF9"/>
<text x="117.3" y="627.8" class="l">Ca</text>
<rect x="414.7" y="567.8" width="253.8" height="190.6" fill="none" stroke="#000" stroke-width="1.5"/>
<path d="M414.7 750.78h5.6M414.7 743.15h5.6M414.7 735.53h5.6M414.7 727.9h5.6M414.7 720.28h12M414.7 712.66h5.6M414.7 705.03h5.6M414.7 697.41h5.6M414.7 689.78h5.6M414.7 682.16h12M414.7 674.54h5.6M414.7 666.91h5.6M414.7 659.29h5.6M414.7 651.66h5.6M414.7 644.04h12M414.7 636.42h5.6M414.7 628.79h5.6M414.7 621.17h5.6M414.7 613.54h5.6M414.7 605.92h12M414.7 598.3h5.6M414.7 590.67h5.6M414.7 583.05h5.6M414.7 575.42h5.6M423.16 758.4v-5.6M431.62 758.4v-5.6M440.08 758.4v-5.6M448.54 758.4v-5.6M457 758.4v-12M465.46 758.4v-5.6M473.92 758.4v-5.6M482.38 758.4v-5.6M490.84 758.4v-5.6M499.3 758.4v-12M507.76 758.4v-5.6M516.22 758.4v-5.6M524.68 758.4v-5.6M533.14 758.4v-5.6M541.6 758.4v-12M550.06 758.4v-5.6M558.52 758.4v-5.6M566.98 758.4v-5.6M575.44 758.4v-5.6M583.9 758.4v-12M592.36 758.4v-5.6M600.82 758.4v-5.6M609.28 758.4v-5.6M617.74 758.4v-5.6M626.2 758.4v-12M634.66 758.4v-5.6M643.12 758.4v-5.6M651.58 758.4v-5.6M660.04 758.4v-5.6" stroke="#000" stroke-width="1.3" fill="none"/>
<g clip-path="url(#c5)">
<rect x="411.6" y="748.73" width="7.9" height="7.9" fill="#EBC133"/>
<rect x="413.29" y="748.73" width="7.9" height="7.9" fill="#EBC133"/>
<rect x="416.67" y="748.73" width="7.9" height="7.9" fill="#EBC133"/>
<rect x="422.59" y="748.73" width="7.9" height="7.9" fill="#EBC133"/>
<rect x="428.52" y="744.16" width="7.9" height="7.9" fill="#EBC133"/>
<rect x="434.44" y="744.16" width="7.9" height="7.9" fill="#EBC133"/>
<rect x="440.36" y="748.73" width="7.9" height="7.9" fill="#EBC133"/>
<rect x="452.2" y="746.25" width="7.9" height="7.9" fill="#EBC133"/>
<rect x="481.81" y="742.63" width="7.9" height="7.9" fill="#EBC133"/>
<rect x="505.5" y="741.15" width="7.9" height="7.9" fill="#EBC133"/>
<rect x="529.19" y="742.02" width="7.9" height="7.9" fill="#EBC133"/>
<rect x="549.49" y="740.57" width="7.9" height="7.9" fill="#EBC133"/>
<rect x="576.57" y="740.57" width="7.9" height="7.9" fill="#EBC133"/>
<rect x="600.25" y="737.33" width="7.9" height="7.9" fill="#EBC133"/>
<rect x="623.94" y="739.66" width="7.9" height="7.9" fill="#EBC133"/>
<circle cx="415.55" cy="700.46" r="4.25" fill="#AD5BE4"/>
<circle cx="417.24" cy="690.55" r="4.25" fill="#AD5BE4"/>
<circle cx="420.62" cy="682.16" r="4.25" fill="#AD5BE4"/>
<circle cx="426.54" cy="681.4" r="4.25" fill="#AD5BE4"/>
<circle cx="432.47" cy="680.52" r="4.25" fill="#AD5BE4"/>
<circle cx="438.39" cy="675.11" r="4.25" fill="#AD5BE4"/>
<circle cx="444.31" cy="675.41" r="4.25" fill="#AD5BE4"/>
<circle cx="456.15" cy="675.68" r="4.25" fill="#AD5BE4"/>
<circle cx="485.76" cy="670.11" r="4.25" fill="#AD5BE4"/>
<circle cx="509.45" cy="664.82" r="4.25" fill="#AD5BE4"/>
<circle cx="533.14" cy="665.69" r="4.25" fill="#AD5BE4"/>
<circle cx="553.44" cy="663.4" r="4.25" fill="#AD5BE4"/>
<circle cx="580.52" cy="663.4" r="4.25" fill="#AD5BE4"/>
<circle cx="604.2" cy="661" r="4.25" fill="#AD5BE4"/>
<circle cx="627.89" cy="662.8" r="4.25" fill="#AD5BE4"/>
<path d="M415.55 688.63L420.85 698.03L410.25 698.03Z" fill="#52EC78"/>
<path d="M417.24 677.42L422.54 686.82L411.94 686.82Z" fill="#52EC78"/>
<path d="M420.62 669.18L425.92 678.58L415.32 678.58Z" fill="#52EC78"/>
<path d="M426.54 669.18L431.84 678.58L421.24 678.58Z" fill="#52EC78"/>
<path d="M432.47 666.33L437.77 675.73L427.17 675.73Z" fill="#52EC78"/>
<path d="M438.39 661.03L443.69 670.43L433.09 670.43Z" fill="#52EC78"/>
<path d="M444.31 662.51L449.61 671.91L439.01 671.91Z" fill="#52EC78"/>
<path d="M456.15 661.83L461.45 671.23L450.85 671.23Z" fill="#52EC78"/>
<path d="M485.76 660.87L491.06 670.27L480.46 670.27Z" fill="#52EC78"/>
<path d="M509.45 655.04L514.75 664.44L504.15 664.44Z" fill="#52EC78"/>
<path d="M533.14 656.57L538.44 665.97L527.84 665.97Z" fill="#52EC78"/>
<path d="M553.44 654.16L558.74 663.56L548.14 663.56Z" fill="#52EC78"/>
<path d="M580.52 650.05L585.82 659.45L575.22 659.45Z" fill="#52EC78"/>
<path d="M604.2 648.37L609.5 657.77L598.9 657.77Z" fill="#52EC78"/>
<path d="M627.89 649.25L633.19 658.65L622.59 658.65Z" fill="#52EC78"/>
<path d="M415.55 763.64L420.85 754.64L410.25 754.64Z" fill="#979797"/>
<path d="M417.24 763.64L422.54 754.64L411.94 754.64Z" fill="#979797"/>
<path d="M420.62 763.64L425.92 754.64L415.32 754.64Z" fill="#979797"/>
<path d="M426.54 763.64L431.84 754.64L421.24 754.64Z" fill="#979797"/>
<path d="M432.47 763.64L437.77 754.64L427.17 754.64Z" fill="#979797"/>
<path d="M438.39 763.64L443.69 754.64L433.09 754.64Z" fill="#979797"/>
<path d="M444.31 763.64L449.61 754.64L439.01 754.64Z" fill="#979797"/>
<path d="M456.15 763.64L461.45 754.64L450.85 754.64Z" fill="#979797"/>
<path d="M485.76 763.64L491.06 754.64L480.46 754.64Z" fill="#979797"/>
<path d="M509.45 763.64L514.75 754.64L504.15 754.64Z" fill="#979797"/>
<path d="M533.14 763.64L538.44 754.64L527.84 754.64Z" fill="#979797"/>
<path d="M553.44 763.64L558.74 754.64L548.14 754.64Z" fill="#979797"/>
<path d="M580.52 763.64L585.82 754.64L575.22 754.64Z" fill="#979797"/>
<path d="M604.2 763.64L609.5 754.64L598.9 754.64Z" fill="#979797"/>
<path d="M627.89 763.64L633.19 754.64L622.59 754.64Z" fill="#979797"/>
<path d="M415.55 744.31L421.25 750.01L415.55 755.71L409.85 750.01Z" fill="#F97FF9"/>
<path d="M417.24 747.36L422.94 753.06L417.24 758.76L411.54 753.06Z" fill="#F97FF9"/>
<path d="M420.62 747.36L426.32 753.06L420.62 758.76L414.92 753.06Z" fill="#F97FF9"/>
<path d="M426.54 747.36L432.24 753.06L426.54 758.76L420.84 753.06Z" fill="#F97FF9"/>
<path d="M432.47 747.36L438.17 753.06L432.47 758.76L426.77 753.06Z" fill="#F97FF9"/>
<path d="M438.39 745.84L444.09 751.54L438.39 757.24L432.69 751.54Z" fill="#F97FF9"/>
<path d="M444.31 747.36L450.01 753.06L444.31 758.76L438.61 753.06Z" fill="#F97FF9"/>
<path d="M456.15 747.36L461.85 753.06L456.15 758.76L450.45 753.06Z" fill="#F97FF9"/>
<path d="M485.76 746.72L491.46 752.42L485.76 758.12L480.06 752.42Z" fill="#F97FF9"/>
<path d="M509.45 746.72L515.15 752.42L509.45 758.12L503.75 752.42Z" fill="#F97FF9"/>
<path d="M533.14 746.72L538.84 752.42L533.14 758.12L527.44 752.42Z" fill="#F97FF9"/>
<path d="M553.44 746.72L559.14 752.42L553.44 758.12L547.74 752.42Z" fill="#F97FF9"/>
<path d="M580.52 746.72L586.22 752.42L580.52 758.12L574.82 752.42Z" fill="#F97FF9"/>
<path d="M604.2 745.46L609.9 751.16L604.2 756.86L598.5 751.16Z" fill="#F97FF9"/>
<path d="M627.89 746.72L633.59 752.42L627.89 758.12L622.19 752.42Z" fill="#F97FF9"/>
<path d="M409.35 751.16H421.75M409.35 754.21H421.75" stroke="#EBC133" stroke-width="1" fill="none"/>
<path d="M411.04 751.16H423.44M411.04 754.21H423.44" stroke="#EBC133" stroke-width="1" fill="none"/>
<path d="M414.42 751.16H426.82M414.42 754.21H426.82" stroke="#EBC133" stroke-width="1" fill="none"/>
<path d="M420.34 751.16H432.74M420.34 754.21H432.74" stroke="#EBC133" stroke-width="1" fill="none"/>
<path d="M426.27 746.58H438.67M426.27 749.63H438.67" stroke="#EBC133" stroke-width="1" fill="none"/>
<path d="M432.19 746.58H444.59M432.19 749.63H444.59" stroke="#EBC133" stroke-width="1" fill="none"/>
<path d="M438.11 751.16H450.51M438.11 754.21H450.51" stroke="#EBC133" stroke-width="1" fill="none"/>
<path d="M449.95 748.68H462.35M449.95 751.73H462.35" stroke="#EBC133" stroke-width="1" fill="none"/>
<path d="M479.56 745.06H491.96M479.56 748.11H491.96" stroke="#EBC133" stroke-width="1" fill="none"/>
<path d="M503.25 743.57H515.65M503.25 746.62H515.65" stroke="#EBC133" stroke-width="1" fill="none"/>
<path d="M526.94 744.45H539.34M526.94 747.5H539.34" stroke="#EBC133" stroke-width="1" fill="none"/>
<path d="M547.24 743H559.64M547.24 746.05H559.64" stroke="#EBC133" stroke-width="1" fill="none"/>
<path d="M574.32 743H586.72M574.32 746.05H586.72" stroke="#EBC133" stroke-width="1" fill="none"/>
<path d="M598 739.76H610.4M598 742.81H610.4" stroke="#EBC133" stroke-width="1" fill="none"/>
<path d="M621.69 742.08H634.09M621.69 745.13H634.09" stroke="#EBC133" stroke-width="1" fill="none"/>
<path d="M409.35 697.41H421.75M409.35 703.51H421.75" stroke="#AD5BE4" stroke-width="1" fill="none"/>
<path d="M411.04 687.5H423.44M411.04 693.6H423.44" stroke="#AD5BE4" stroke-width="1" fill="none"/>
<path d="M414.42 679.11H426.82M414.42 685.21H426.82" stroke="#AD5BE4" stroke-width="1" fill="none"/>
<path d="M420.34 678.35H432.74M420.34 684.45H432.74" stroke="#AD5BE4" stroke-width="1" fill="none"/>
<path d="M426.27 677.47H438.67M426.27 683.57H438.67" stroke="#AD5BE4" stroke-width="1" fill="none"/>
<path d="M432.19 672.06H444.59M432.19 678.16H444.59" stroke="#AD5BE4" stroke-width="1" fill="none"/>
<path d="M438.11 672.36H450.51M438.11 678.46H450.51" stroke="#AD5BE4" stroke-width="1" fill="none"/>
<path d="M449.95 672.63H462.35M449.95 678.73H462.35" stroke="#AD5BE4" stroke-width="1" fill="none"/>
<path d="M479.56 667.06H491.96M479.56 673.16H491.96" stroke="#AD5BE4" stroke-width="1" fill="none"/>
<path d="M503.25 661.77H515.65M503.25 667.87H515.65" stroke="#AD5BE4" stroke-width="1" fill="none"/>
<path d="M526.94 662.64H539.34M526.94 668.74H539.34" stroke="#AD5BE4" stroke-width="1" fill="none"/>
<path d="M547.24 660.36H559.64M547.24 666.45H559.64" stroke="#AD5BE4" stroke-width="1" fill="none"/>
<path d="M574.32 660.36H586.72M574.32 666.45H586.72" stroke="#AD5BE4" stroke-width="1" fill="none"/>
<path d="M598 657.95H610.4M598 664.05H610.4" stroke="#AD5BE4" stroke-width="1" fill="none"/>
<path d="M621.69 659.75H634.09M621.69 665.84H634.09" stroke="#AD5BE4" stroke-width="1" fill="none"/>
<path d="M409.35 691.84H421.75M409.35 697.94H421.75" stroke="#52EC78" stroke-width="1" fill="none"/>
<path d="M411.04 680.64H423.44M411.04 686.73H423.44" stroke="#52EC78" stroke-width="1" fill="none"/>
<path d="M414.42 672.4H426.82M414.42 678.5H426.82" stroke="#52EC78" stroke-width="1" fill="none"/>
<path d="M420.34 672.4H432.74M420.34 678.5H432.74" stroke="#52EC78" stroke-width="1" fill="none"/>
<path d="M426.27 669.54H438.67M426.27 675.64H438.67" stroke="#52EC78" stroke-width="1" fill="none"/>
<path d="M432.19 664.24H444.59M432.19 670.34H444.59" stroke="#52EC78" stroke-width="1" fill="none"/>
<path d="M438.11 665.73H450.51M438.11 671.83H450.51" stroke="#52EC78" stroke-width="1" fill="none"/>
<path d="M449.95 665.04H462.35M449.95 671.14H462.35" stroke="#52EC78" stroke-width="1" fill="none"/>
<path d="M479.56 664.09H491.96M479.56 670.19H491.96" stroke="#52EC78" stroke-width="1" fill="none"/>
<path d="M503.25 658.26H515.65M503.25 664.36H515.65" stroke="#52EC78" stroke-width="1" fill="none"/>
<path d="M526.94 659.78H539.34M526.94 665.88H539.34" stroke="#52EC78" stroke-width="1" fill="none"/>
<path d="M547.24 657.38H559.64M547.24 663.48H559.64" stroke="#52EC78" stroke-width="1" fill="none"/>
<path d="M574.32 653.27H586.72M574.32 659.36H586.72" stroke="#52EC78" stroke-width="1" fill="none"/>
<path d="M598 651.59H610.4M598 657.69H610.4" stroke="#52EC78" stroke-width="1" fill="none"/>
<path d="M621.69 652.46H634.09M621.69 658.56H634.09" stroke="#52EC78" stroke-width="1" fill="none"/>
<path d="M409.35 748.87H421.75M409.35 751.16H421.75" stroke="#F97FF9" stroke-width="1" fill="none"/>
<path d="M411.04 751.92H423.44M411.04 754.21H423.44" stroke="#F97FF9" stroke-width="1" fill="none"/>
<path d="M414.42 751.92H426.82M414.42 754.21H426.82" stroke="#F97FF9" stroke-width="1" fill="none"/>
<path d="M420.34 751.92H432.74M420.34 754.21H432.74" stroke="#F97FF9" stroke-width="1" fill="none"/>
<path d="M426.27 751.92H438.67M426.27 754.21H438.67" stroke="#F97FF9" stroke-width="1" fill="none"/>
<path d="M432.19 750.39H444.59M432.19 752.68H444.59" stroke="#F97FF9" stroke-width="1" fill="none"/>
<path d="M438.11 751.92H450.51M438.11 754.21H450.51" stroke="#F97FF9" stroke-width="1" fill="none"/>
<path d="M449.95 751.92H462.35M449.95 754.21H462.35" stroke="#F97FF9" stroke-width="1" fill="none"/>
<path d="M479.56 751.27H491.96M479.56 753.56H491.96" stroke="#F97FF9" stroke-width="1" fill="none"/>
<path d="M503.25 751.27H515.65M503.25 753.56H515.65" stroke="#F97FF9" stroke-width="1" fill="none"/>
<path d="M526.94 751.27H539.34M526.94 753.56H539.34" stroke="#F97FF9" stroke-width="1" fill="none"/>
<path d="M547.24 751.27H559.64M547.24 753.56H559.64" stroke="#F97FF9" stroke-width="1" fill="none"/>
<path d="M574.32 751.27H586.72M574.32 753.56H586.72" stroke="#F97FF9" stroke-width="1" fill="none"/>
<path d="M598 750.01H610.4M598 752.3H610.4" stroke="#F97FF9" stroke-width="1" fill="none"/>
<path d="M621.69 751.27H634.09M621.69 753.56H634.09" stroke="#F97FF9" stroke-width="1" fill="none"/>
</g>
<text transform="translate(400.8 763) scale(0.93,1)" text-anchor="end" class="t">0</text>
<text transform="translate(400.8 724.88) scale(0.93,1)" text-anchor="end" class="t">100</text>
<text transform="translate(400.8 686.76) scale(0.93,1)" text-anchor="end" class="t">200</text>
<text transform="translate(400.8 648.64) scale(0.93,1)" text-anchor="end" class="t">300</text>
<text transform="translate(400.8 610.52) scale(0.93,1)" text-anchor="end" class="t">400</text>
<text transform="translate(400.8 572.4) scale(0.93,1)" text-anchor="end" class="t">500</text>
<text transform="translate(414.7 784.9) scale(0.93,1)" text-anchor="middle" class="t">0</text>
<text transform="translate(457 784.9) scale(0.93,1)" text-anchor="middle" class="t">50</text>
<text transform="translate(499.3 784.9) scale(0.93,1)" text-anchor="middle" class="t">100</text>
<text transform="translate(541.6 784.9) scale(0.93,1)" text-anchor="middle" class="t">150</text>
<text transform="translate(583.9 784.9) scale(0.93,1)" text-anchor="middle" class="t">200</text>
<text transform="translate(626.2 784.9) scale(0.93,1)" text-anchor="middle" class="t">250</text>
<text transform="translate(668.5 784.9) scale(0.93,1)" text-anchor="middle" class="t">300</text>
<text transform="translate(518.71 564.7) scale(0.851,1)" class="t">B10A1</text>
<text transform="translate(541.6 812.9) scale(0.95,1)" text-anchor="middle" class="t">Time (days)</text>
<text transform="translate(360.9 663.1) rotate(-90) scale(0.94,1)" text-anchor="middle" class="t">ETh (nm)</text>
<rect x="429.85" y="573.95" width="7.9" height="7.9" fill="#EBC133"/>
<text x="458" y="583.7" class="l">Si</text>
<circle cx="500.5" cy="577.9" r="4.25" fill="#AD5BE4"/>
<text x="524.6" y="583.7" class="l">B</text>
<path d="M433.8 593.63L439.1 603.03L428.5 603.03Z" fill="#52EC78"/>
<text x="458" y="605.7" class="l">Na</text>
<path d="M500.5 605.9L505.8 596.9L495.2 596.9Z" fill="#979797"/>
<text x="524.6" y="605.7" class="l">Al</text>
<path d="M433.8 616.2L439.5 621.9L433.8 627.6L428.1 621.9Z" fill="#F97FF9"/>
<text x="458" y="627.7" class="l">Ca</text>
</svg>
</body></html>
